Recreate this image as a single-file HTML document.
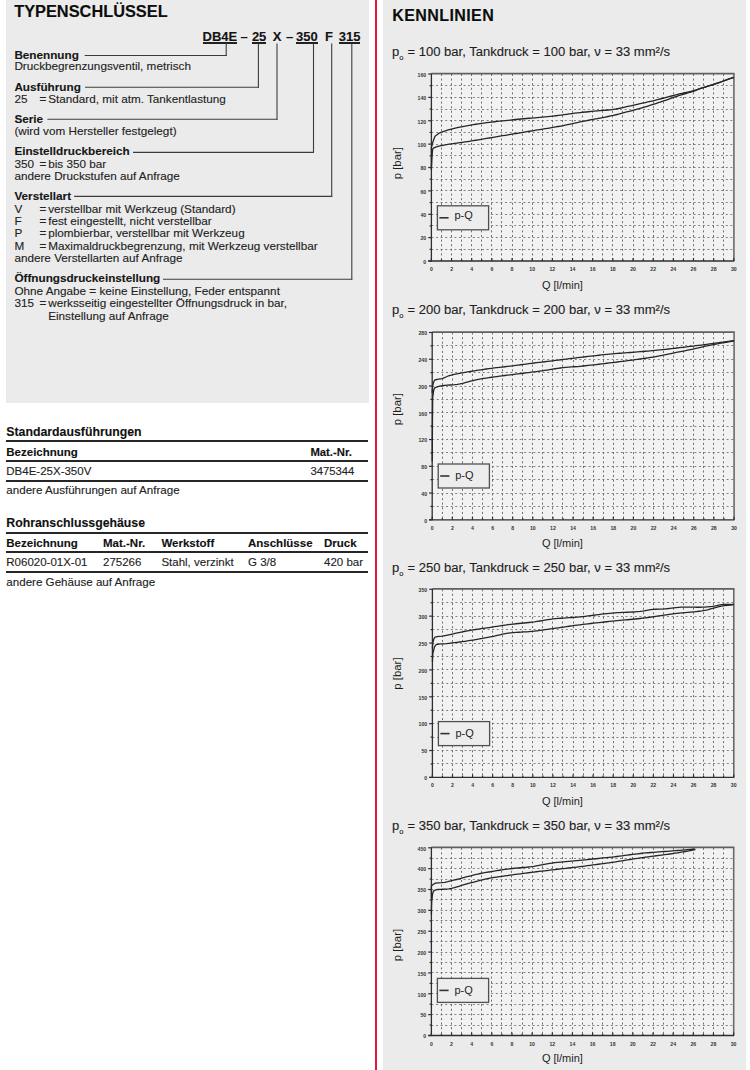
<!DOCTYPE html>
<html><head><meta charset="utf-8"><title>Typenschlüssel / Kennlinien</title>
<style>
html,body{margin:0;padding:0;background:#fff;}
body{width:750px;height:1070px;position:relative;overflow:hidden;font-family:"Liberation Sans", sans-serif;}
.t{position:absolute;white-space:nowrap;}
.r{position:absolute;}
svg{position:absolute;left:0;top:0;}
svg text{font-family:"Liberation Sans", sans-serif;}
</style></head><body>
<div class="r" style="left:6.00px;top:0.00px;width:363.00px;height:403.00px;background:#ebebeb;"></div>
<div class="r" style="left:383.00px;top:0.00px;width:363.00px;height:1070.00px;background:#ebebeb;"></div>
<div class="r" style="left:375.00px;top:0.00px;width:2.00px;height:1070.00px;background:#e1173c;"></div>
<div class="r" style="left:202.50px;top:42.20px;width:34.70px;height:1.50px;background:#222;"></div>
<div class="r" style="left:251.90px;top:42.20px;width:14.50px;height:1.50px;background:#222;"></div>
<div class="r" style="left:296.00px;top:42.20px;width:21.70px;height:1.50px;background:#222;"></div>
<div class="r" style="left:338.80px;top:42.20px;width:21.70px;height:1.50px;background:#222;"></div>
<div class="r" style="left:5.60px;top:440.00px;width:362.80px;height:1.60px;background:#262626;"></div>
<div class="r" style="left:5.60px;top:460.00px;width:362.80px;height:1.60px;background:#262626;"></div>
<div class="r" style="left:5.60px;top:480.00px;width:362.80px;height:1.60px;background:#262626;"></div>
<div class="r" style="left:5.60px;top:532.00px;width:362.80px;height:1.60px;background:#262626;"></div>
<div class="r" style="left:5.60px;top:551.00px;width:362.80px;height:1.60px;background:#262626;"></div>
<div class="r" style="left:5.60px;top:571.20px;width:362.80px;height:1.60px;background:#262626;"></div>
<svg width="750" height="1070" viewBox="0 0 750 1070">
<line x1="226.20" y1="43.50" x2="226.20" y2="56.00" stroke="#3c3c3c" stroke-width="1.1" />
<line x1="84.70" y1="55.50" x2="226.70" y2="55.50" stroke="#3c3c3c" stroke-width="1.1" />
<line x1="258.40" y1="43.50" x2="258.40" y2="87.70" stroke="#3c3c3c" stroke-width="1.1" />
<line x1="85.10" y1="87.20" x2="258.90" y2="87.20" stroke="#3c3c3c" stroke-width="1.1" />
<line x1="277.00" y1="43.50" x2="277.00" y2="119.80" stroke="#3c3c3c" stroke-width="1.1" />
<line x1="47.40" y1="119.30" x2="277.50" y2="119.30" stroke="#3c3c3c" stroke-width="1.1" />
<line x1="313.50" y1="43.50" x2="313.50" y2="152.90" stroke="#3c3c3c" stroke-width="1.1" />
<line x1="133.00" y1="152.40" x2="314.00" y2="152.40" stroke="#3c3c3c" stroke-width="1.1" />
<line x1="331.70" y1="43.50" x2="331.70" y2="196.90" stroke="#3c3c3c" stroke-width="1.1" />
<line x1="74.10" y1="196.40" x2="332.20" y2="196.40" stroke="#3c3c3c" stroke-width="1.1" />
<line x1="351.80" y1="43.50" x2="351.80" y2="279.80" stroke="#3c3c3c" stroke-width="1.1" />
<line x1="163.00" y1="279.30" x2="352.30" y2="279.30" stroke="#3c3c3c" stroke-width="1.1" />
<rect x="431.40" y="74.00" width="302.40" height="187.00" fill="#f2f2f2"/>
<line x1="431.40" y1="249.50" x2="733.80" y2="249.50" stroke="#838383" stroke-width="1" stroke-dasharray="2 2.6"/>
<line x1="431.40" y1="237.50" x2="733.80" y2="237.50" stroke="#838383" stroke-width="1" stroke-dasharray="2 2.6"/>
<line x1="431.40" y1="225.50" x2="733.80" y2="225.50" stroke="#838383" stroke-width="1" stroke-dasharray="2 2.6"/>
<line x1="431.40" y1="214.50" x2="733.80" y2="214.50" stroke="#838383" stroke-width="1" stroke-dasharray="2 2.6"/>
<line x1="431.40" y1="202.50" x2="733.80" y2="202.50" stroke="#838383" stroke-width="1" stroke-dasharray="2 2.6"/>
<line x1="431.40" y1="190.50" x2="733.80" y2="190.50" stroke="#838383" stroke-width="1" stroke-dasharray="2 2.6"/>
<line x1="431.40" y1="179.50" x2="733.80" y2="179.50" stroke="#838383" stroke-width="1" stroke-dasharray="2 2.6"/>
<line x1="431.40" y1="167.50" x2="733.80" y2="167.50" stroke="#838383" stroke-width="1" stroke-dasharray="2 2.6"/>
<line x1="431.40" y1="155.50" x2="733.80" y2="155.50" stroke="#838383" stroke-width="1" stroke-dasharray="2 2.6"/>
<line x1="431.40" y1="144.50" x2="733.80" y2="144.50" stroke="#838383" stroke-width="1" stroke-dasharray="2 2.6"/>
<line x1="431.40" y1="132.50" x2="733.80" y2="132.50" stroke="#838383" stroke-width="1" stroke-dasharray="2 2.6"/>
<line x1="431.40" y1="120.50" x2="733.80" y2="120.50" stroke="#838383" stroke-width="1" stroke-dasharray="2 2.6"/>
<line x1="431.40" y1="109.50" x2="733.80" y2="109.50" stroke="#838383" stroke-width="1" stroke-dasharray="2 2.6"/>
<line x1="431.40" y1="97.50" x2="733.80" y2="97.50" stroke="#838383" stroke-width="1" stroke-dasharray="2 2.6"/>
<line x1="431.40" y1="85.50" x2="733.80" y2="85.50" stroke="#838383" stroke-width="1" stroke-dasharray="2 2.6"/>
<line x1="441.50" y1="74.00" x2="441.50" y2="261.00" stroke="#6e6e6e" stroke-width="1" stroke-dasharray="2 2.6"/>
<line x1="451.50" y1="74.00" x2="451.50" y2="261.00" stroke="#6e6e6e" stroke-width="1" stroke-dasharray="2 2.6"/>
<line x1="461.50" y1="74.00" x2="461.50" y2="261.00" stroke="#6e6e6e" stroke-width="1" stroke-dasharray="2 2.6"/>
<line x1="471.50" y1="74.00" x2="471.50" y2="261.00" stroke="#6e6e6e" stroke-width="1" stroke-dasharray="2 2.6"/>
<line x1="481.50" y1="74.00" x2="481.50" y2="261.00" stroke="#6e6e6e" stroke-width="1" stroke-dasharray="2 2.6"/>
<line x1="491.50" y1="74.00" x2="491.50" y2="261.00" stroke="#6e6e6e" stroke-width="1" stroke-dasharray="2 2.6"/>
<line x1="501.50" y1="74.00" x2="501.50" y2="261.00" stroke="#6e6e6e" stroke-width="1" stroke-dasharray="2 2.6"/>
<line x1="512.50" y1="74.00" x2="512.50" y2="261.00" stroke="#6e6e6e" stroke-width="1" stroke-dasharray="2 2.6"/>
<line x1="522.50" y1="74.00" x2="522.50" y2="261.00" stroke="#6e6e6e" stroke-width="1" stroke-dasharray="2 2.6"/>
<line x1="532.50" y1="74.00" x2="532.50" y2="261.00" stroke="#6e6e6e" stroke-width="1" stroke-dasharray="2 2.6"/>
<line x1="542.50" y1="74.00" x2="542.50" y2="261.00" stroke="#6e6e6e" stroke-width="1" stroke-dasharray="2 2.6"/>
<line x1="552.50" y1="74.00" x2="552.50" y2="261.00" stroke="#6e6e6e" stroke-width="1" stroke-dasharray="2 2.6"/>
<line x1="562.50" y1="74.00" x2="562.50" y2="261.00" stroke="#6e6e6e" stroke-width="1" stroke-dasharray="2 2.6"/>
<line x1="572.50" y1="74.00" x2="572.50" y2="261.00" stroke="#6e6e6e" stroke-width="1" stroke-dasharray="2 2.6"/>
<line x1="582.50" y1="74.00" x2="582.50" y2="261.00" stroke="#6e6e6e" stroke-width="1" stroke-dasharray="2 2.6"/>
<line x1="592.50" y1="74.00" x2="592.50" y2="261.00" stroke="#6e6e6e" stroke-width="1" stroke-dasharray="2 2.6"/>
<line x1="602.50" y1="74.00" x2="602.50" y2="261.00" stroke="#6e6e6e" stroke-width="1" stroke-dasharray="2 2.6"/>
<line x1="612.50" y1="74.00" x2="612.50" y2="261.00" stroke="#6e6e6e" stroke-width="1" stroke-dasharray="2 2.6"/>
<line x1="622.50" y1="74.00" x2="622.50" y2="261.00" stroke="#6e6e6e" stroke-width="1" stroke-dasharray="2 2.6"/>
<line x1="633.50" y1="74.00" x2="633.50" y2="261.00" stroke="#6e6e6e" stroke-width="1" stroke-dasharray="2 2.6"/>
<line x1="643.50" y1="74.00" x2="643.50" y2="261.00" stroke="#6e6e6e" stroke-width="1" stroke-dasharray="2 2.6"/>
<line x1="653.50" y1="74.00" x2="653.50" y2="261.00" stroke="#6e6e6e" stroke-width="1" stroke-dasharray="2 2.6"/>
<line x1="663.50" y1="74.00" x2="663.50" y2="261.00" stroke="#6e6e6e" stroke-width="1" stroke-dasharray="2 2.6"/>
<line x1="673.50" y1="74.00" x2="673.50" y2="261.00" stroke="#6e6e6e" stroke-width="1" stroke-dasharray="2 2.6"/>
<line x1="683.50" y1="74.00" x2="683.50" y2="261.00" stroke="#6e6e6e" stroke-width="1" stroke-dasharray="2 2.6"/>
<line x1="693.50" y1="74.00" x2="693.50" y2="261.00" stroke="#6e6e6e" stroke-width="1" stroke-dasharray="2 2.6"/>
<line x1="703.50" y1="74.00" x2="703.50" y2="261.00" stroke="#6e6e6e" stroke-width="1" stroke-dasharray="2 2.6"/>
<line x1="713.50" y1="74.00" x2="713.50" y2="261.00" stroke="#6e6e6e" stroke-width="1" stroke-dasharray="2 2.6"/>
<line x1="723.50" y1="74.00" x2="723.50" y2="261.00" stroke="#6e6e6e" stroke-width="1" stroke-dasharray="2 2.6"/>
<line x1="431.40" y1="73.60" x2="734.60" y2="73.60" stroke="#606060" stroke-width="1.8" />
<line x1="733.90" y1="73.60" x2="733.90" y2="261.00" stroke="#6a6a6a" stroke-width="1.6" />
<line x1="431.40" y1="73.50" x2="431.40" y2="261.50" stroke="#2e2e2e" stroke-width="1.3" />
<line x1="428.20" y1="261.00" x2="734.30" y2="261.00" stroke="#2e2e2e" stroke-width="1.3" />
<line x1="428.20" y1="261.00" x2="431.40" y2="261.00" stroke="#2e2e2e" stroke-width="1.2" />
<text font-size="6" font-weight="bold" text-anchor="end" fill="#333" transform="matrix(0.86 0 0 1 426.20 263.80)">0</text>
<line x1="429.60" y1="249.31" x2="431.40" y2="249.31" stroke="#2e2e2e" stroke-width="1.2" />
<line x1="428.20" y1="237.62" x2="431.40" y2="237.62" stroke="#2e2e2e" stroke-width="1.2" />
<text font-size="6" font-weight="bold" text-anchor="end" fill="#333" transform="matrix(0.86 0 0 1 426.20 240.43)">20</text>
<line x1="429.60" y1="225.94" x2="431.40" y2="225.94" stroke="#2e2e2e" stroke-width="1.2" />
<line x1="428.20" y1="214.25" x2="431.40" y2="214.25" stroke="#2e2e2e" stroke-width="1.2" />
<text font-size="6" font-weight="bold" text-anchor="end" fill="#333" transform="matrix(0.86 0 0 1 426.20 217.05)">40</text>
<line x1="429.60" y1="202.56" x2="431.40" y2="202.56" stroke="#2e2e2e" stroke-width="1.2" />
<line x1="428.20" y1="190.88" x2="431.40" y2="190.88" stroke="#2e2e2e" stroke-width="1.2" />
<text font-size="6" font-weight="bold" text-anchor="end" fill="#333" transform="matrix(0.86 0 0 1 426.20 193.68)">60</text>
<line x1="429.60" y1="179.19" x2="431.40" y2="179.19" stroke="#2e2e2e" stroke-width="1.2" />
<line x1="428.20" y1="167.50" x2="431.40" y2="167.50" stroke="#2e2e2e" stroke-width="1.2" />
<text font-size="6" font-weight="bold" text-anchor="end" fill="#333" transform="matrix(0.86 0 0 1 426.20 170.30)">80</text>
<line x1="429.60" y1="155.81" x2="431.40" y2="155.81" stroke="#2e2e2e" stroke-width="1.2" />
<line x1="428.20" y1="144.12" x2="431.40" y2="144.12" stroke="#2e2e2e" stroke-width="1.2" />
<text font-size="6" font-weight="bold" text-anchor="end" fill="#333" transform="matrix(0.86 0 0 1 426.20 146.93)">100</text>
<line x1="429.60" y1="132.44" x2="431.40" y2="132.44" stroke="#2e2e2e" stroke-width="1.2" />
<line x1="428.20" y1="120.75" x2="431.40" y2="120.75" stroke="#2e2e2e" stroke-width="1.2" />
<text font-size="6" font-weight="bold" text-anchor="end" fill="#333" transform="matrix(0.86 0 0 1 426.20 123.55)">120</text>
<line x1="429.60" y1="109.06" x2="431.40" y2="109.06" stroke="#2e2e2e" stroke-width="1.2" />
<line x1="428.20" y1="97.38" x2="431.40" y2="97.38" stroke="#2e2e2e" stroke-width="1.2" />
<text font-size="6" font-weight="bold" text-anchor="end" fill="#333" transform="matrix(0.86 0 0 1 426.20 100.17)">140</text>
<line x1="429.60" y1="85.69" x2="431.40" y2="85.69" stroke="#2e2e2e" stroke-width="1.2" />
<line x1="428.20" y1="74.00" x2="431.40" y2="74.00" stroke="#2e2e2e" stroke-width="1.2" />
<text font-size="6" font-weight="bold" text-anchor="end" fill="#333" transform="matrix(0.86 0 0 1 426.20 76.80)">160</text>
<line x1="431.40" y1="258.00" x2="431.40" y2="261.00" stroke="#2e2e2e" stroke-width="1.2" />
<text font-size="6" font-weight="bold" text-anchor="middle" fill="#333" transform="matrix(0.86 0 0 1 431.40 271.00)">0</text>
<line x1="441.48" y1="259.20" x2="441.48" y2="261.00" stroke="#2e2e2e" stroke-width="1.2" />
<line x1="451.56" y1="258.00" x2="451.56" y2="261.00" stroke="#2e2e2e" stroke-width="1.2" />
<text font-size="6" font-weight="bold" text-anchor="middle" fill="#333" transform="matrix(0.86 0 0 1 451.56 271.00)">2</text>
<line x1="461.64" y1="259.20" x2="461.64" y2="261.00" stroke="#2e2e2e" stroke-width="1.2" />
<line x1="471.72" y1="258.00" x2="471.72" y2="261.00" stroke="#2e2e2e" stroke-width="1.2" />
<text font-size="6" font-weight="bold" text-anchor="middle" fill="#333" transform="matrix(0.86 0 0 1 471.72 271.00)">4</text>
<line x1="481.80" y1="259.20" x2="481.80" y2="261.00" stroke="#2e2e2e" stroke-width="1.2" />
<line x1="491.88" y1="258.00" x2="491.88" y2="261.00" stroke="#2e2e2e" stroke-width="1.2" />
<text font-size="6" font-weight="bold" text-anchor="middle" fill="#333" transform="matrix(0.86 0 0 1 491.88 271.00)">6</text>
<line x1="501.96" y1="259.20" x2="501.96" y2="261.00" stroke="#2e2e2e" stroke-width="1.2" />
<line x1="512.04" y1="258.00" x2="512.04" y2="261.00" stroke="#2e2e2e" stroke-width="1.2" />
<text font-size="6" font-weight="bold" text-anchor="middle" fill="#333" transform="matrix(0.86 0 0 1 512.04 271.00)">8</text>
<line x1="522.12" y1="259.20" x2="522.12" y2="261.00" stroke="#2e2e2e" stroke-width="1.2" />
<line x1="532.20" y1="258.00" x2="532.20" y2="261.00" stroke="#2e2e2e" stroke-width="1.2" />
<text font-size="6" font-weight="bold" text-anchor="middle" fill="#333" transform="matrix(0.86 0 0 1 532.20 271.00)">10</text>
<line x1="542.28" y1="259.20" x2="542.28" y2="261.00" stroke="#2e2e2e" stroke-width="1.2" />
<line x1="552.36" y1="258.00" x2="552.36" y2="261.00" stroke="#2e2e2e" stroke-width="1.2" />
<text font-size="6" font-weight="bold" text-anchor="middle" fill="#333" transform="matrix(0.86 0 0 1 552.36 271.00)">12</text>
<line x1="562.44" y1="259.20" x2="562.44" y2="261.00" stroke="#2e2e2e" stroke-width="1.2" />
<line x1="572.52" y1="258.00" x2="572.52" y2="261.00" stroke="#2e2e2e" stroke-width="1.2" />
<text font-size="6" font-weight="bold" text-anchor="middle" fill="#333" transform="matrix(0.86 0 0 1 572.52 271.00)">14</text>
<line x1="582.60" y1="259.20" x2="582.60" y2="261.00" stroke="#2e2e2e" stroke-width="1.2" />
<line x1="592.68" y1="258.00" x2="592.68" y2="261.00" stroke="#2e2e2e" stroke-width="1.2" />
<text font-size="6" font-weight="bold" text-anchor="middle" fill="#333" transform="matrix(0.86 0 0 1 592.68 271.00)">16</text>
<line x1="602.76" y1="259.20" x2="602.76" y2="261.00" stroke="#2e2e2e" stroke-width="1.2" />
<line x1="612.84" y1="258.00" x2="612.84" y2="261.00" stroke="#2e2e2e" stroke-width="1.2" />
<text font-size="6" font-weight="bold" text-anchor="middle" fill="#333" transform="matrix(0.86 0 0 1 612.84 271.00)">18</text>
<line x1="622.92" y1="259.20" x2="622.92" y2="261.00" stroke="#2e2e2e" stroke-width="1.2" />
<line x1="633.00" y1="258.00" x2="633.00" y2="261.00" stroke="#2e2e2e" stroke-width="1.2" />
<text font-size="6" font-weight="bold" text-anchor="middle" fill="#333" transform="matrix(0.86 0 0 1 633.00 271.00)">20</text>
<line x1="643.08" y1="259.20" x2="643.08" y2="261.00" stroke="#2e2e2e" stroke-width="1.2" />
<line x1="653.16" y1="258.00" x2="653.16" y2="261.00" stroke="#2e2e2e" stroke-width="1.2" />
<text font-size="6" font-weight="bold" text-anchor="middle" fill="#333" transform="matrix(0.86 0 0 1 653.16 271.00)">22</text>
<line x1="663.24" y1="259.20" x2="663.24" y2="261.00" stroke="#2e2e2e" stroke-width="1.2" />
<line x1="673.32" y1="258.00" x2="673.32" y2="261.00" stroke="#2e2e2e" stroke-width="1.2" />
<text font-size="6" font-weight="bold" text-anchor="middle" fill="#333" transform="matrix(0.86 0 0 1 673.32 271.00)">24</text>
<line x1="683.40" y1="259.20" x2="683.40" y2="261.00" stroke="#2e2e2e" stroke-width="1.2" />
<line x1="693.48" y1="258.00" x2="693.48" y2="261.00" stroke="#2e2e2e" stroke-width="1.2" />
<text font-size="6" font-weight="bold" text-anchor="middle" fill="#333" transform="matrix(0.86 0 0 1 693.48 271.00)">26</text>
<line x1="703.56" y1="259.20" x2="703.56" y2="261.00" stroke="#2e2e2e" stroke-width="1.2" />
<line x1="713.64" y1="258.00" x2="713.64" y2="261.00" stroke="#2e2e2e" stroke-width="1.2" />
<text font-size="6" font-weight="bold" text-anchor="middle" fill="#333" transform="matrix(0.86 0 0 1 713.64 271.00)">28</text>
<line x1="723.72" y1="259.20" x2="723.72" y2="261.00" stroke="#2e2e2e" stroke-width="1.2" />
<line x1="733.80" y1="258.00" x2="733.80" y2="261.00" stroke="#2e2e2e" stroke-width="1.2" />
<text font-size="6" font-weight="bold" text-anchor="middle" fill="#333" transform="matrix(0.86 0 0 1 733.80 271.00)">30</text>
<rect x="437.40" y="205.80" width="51.2" height="24" fill="#ededed" stroke="#505050" stroke-width="1.3"/>
<line x1="439.40" y1="217.80" x2="448.60" y2="217.80" stroke="#333" stroke-width="1.6" />
<text x="454.40" y="218.80" font-size="11" text-anchor="start" fill="#1e1e1e" font-weight="normal" >p-Q</text>
<text x="562.40" y="288.80" font-size="11" text-anchor="middle" fill="#1e1e1e" font-weight="normal" >Q [l/min]</text>
<text x="0" y="0" font-size="11.4" text-anchor="middle" fill="#1e1e1e" transform="translate(400.6 163.20) rotate(-90)">p [bar]</text>
<path d="M431.40 169.84 L431.40 147.63 L433.21 140.95 L435.03 136.18 L438.71 133.47 L442.39 131.97 L445.37 130.86 L448.35 129.90 L451.34 129.06 L454.32 128.32 L457.31 127.65 L459.97 127.08 L462.63 126.55 L465.29 126.04 L467.96 125.56 L470.62 125.10 L473.28 124.66 L475.95 124.25 L478.61 123.85 L481.27 123.46 L483.93 123.09 L486.60 122.73 L489.26 122.39 L491.91 122.05 L494.57 121.73 L497.22 121.42 L499.88 121.13 L502.53 120.84 L505.19 120.57 L507.84 120.30 L510.49 120.03 L513.15 119.77 L515.80 119.51 L518.46 119.26 L521.11 119.00 L523.78 118.74 L526.45 118.50 L529.13 118.26 L531.80 118.03 L534.47 117.80 L537.14 117.57 L539.81 117.35 L542.48 117.11 L545.15 116.87 L547.82 116.62 L550.50 116.35 L553.17 116.08 L555.86 115.77 L558.55 115.43 L561.24 115.07 L563.93 114.70 L566.62 114.32 L569.31 113.94 L572.01 113.57 L574.70 113.21 L577.39 112.88 L580.08 112.57 L582.93 112.27 L585.78 111.99 L588.63 111.73 L591.48 111.47 L594.34 111.22 L597.19 110.96 L600.04 110.70 L602.70 110.46 L605.36 110.23 L608.02 109.99 L610.68 109.73 L613.34 109.41 L616.01 109.00 L618.67 108.49 L621.33 107.91 L623.99 107.31 L626.65 106.72 L629.33 106.14 L632.01 105.53 L634.69 104.91 L637.37 104.30 L640.06 103.69 L642.68 103.11 L645.30 102.53 L647.92 101.96 L650.54 101.38 L653.16 100.76 L655.78 100.12 L658.40 99.44 L661.02 98.75 L663.64 98.06 L666.26 97.38 L668.88 96.69 L671.51 96.00 L674.13 95.32 L676.75 94.64 L679.37 93.99 L682.19 93.33 L685.01 92.71 L687.84 92.10 L690.66 91.45 L693.48 90.71 L696.50 89.75 L699.53 88.73 L702.35 87.87 L705.17 87.05 L708.00 86.24 L710.82 85.41 L713.64 84.52 L716.16 83.67 L718.68 82.77 L721.20 81.84 L723.72 80.89 L726.24 79.92 L728.76 78.95 L731.28 77.99 L733.80 77.04" fill="none" stroke="#262626" stroke-width="1.3" stroke-linejoin="round"/>
<path d="M431.40 168.67 L432.00 156.95 L432.61 149.38 L433.26 148.35 L433.92 147.87 L436.44 146.81 L438.96 146.08 L441.48 145.56 L444.00 145.14 L446.52 144.71 L449.17 144.23 L451.81 143.80 L454.46 143.41 L457.10 143.04 L459.75 142.68 L462.40 142.32 L465.04 141.95 L467.69 141.55 L470.38 141.13 L473.06 140.69 L475.75 140.25 L478.44 139.81 L481.13 139.36 L483.82 138.91 L486.50 138.45 L489.19 137.99 L491.88 137.54 L494.57 137.08 L497.26 136.63 L499.94 136.18 L502.63 135.73 L505.32 135.28 L508.01 134.83 L510.70 134.39 L513.38 133.94 L516.07 133.49 L518.76 133.05 L521.45 132.60 L524.14 132.15 L526.82 131.70 L529.51 131.25 L532.20 130.80 L534.80 130.37 L537.41 129.95 L540.01 129.53 L542.62 129.11 L545.22 128.69 L547.82 128.27 L550.43 127.84 L553.03 127.41 L555.64 126.96 L558.24 126.51 L560.84 126.03 L563.45 125.54 L566.22 124.98 L568.99 124.38 L571.76 123.76 L574.54 123.13 L577.31 122.51 L580.08 121.92 L582.93 121.34 L585.78 120.79 L588.63 120.24 L591.48 119.70 L594.34 119.16 L597.19 118.62 L600.04 118.06 L602.70 117.54 L605.36 117.02 L608.02 116.50 L610.68 115.95 L613.34 115.37 L616.01 114.75 L618.67 114.08 L621.33 113.38 L623.99 112.68 L626.65 111.98 L629.33 111.30 L632.01 110.62 L634.69 109.93 L637.37 109.22 L640.06 108.48 L642.68 107.71 L645.30 106.90 L647.92 106.07 L650.54 105.23 L653.16 104.39 L655.78 103.54 L658.40 102.69 L661.02 101.83 L663.64 100.95 L666.26 100.06 L668.88 99.14 L671.51 98.17 L674.13 97.21 L676.75 96.27 L679.37 95.39 L682.19 94.54 L685.01 93.75 L687.84 92.99 L690.66 92.19 L693.48 91.30 L696.50 90.15 L699.53 88.96 L702.35 87.97 L705.17 87.03 L708.00 86.12 L710.82 85.21 L713.64 84.29 L716.16 83.44 L718.68 82.60 L721.20 81.75 L723.72 80.90 L726.24 80.05 L728.76 79.20 L731.28 78.35 L733.80 77.51" fill="none" stroke="#262626" stroke-width="1.3" stroke-linejoin="round"/>
<rect x="432.20" y="332.50" width="301.80" height="187.30" fill="#f2f2f2"/>
<line x1="432.20" y1="506.50" x2="734.00" y2="506.50" stroke="#838383" stroke-width="1" stroke-dasharray="2 2.6"/>
<line x1="432.20" y1="493.50" x2="734.00" y2="493.50" stroke="#838383" stroke-width="1" stroke-dasharray="2 2.6"/>
<line x1="432.20" y1="479.50" x2="734.00" y2="479.50" stroke="#838383" stroke-width="1" stroke-dasharray="2 2.6"/>
<line x1="432.20" y1="466.50" x2="734.00" y2="466.50" stroke="#838383" stroke-width="1" stroke-dasharray="2 2.6"/>
<line x1="432.20" y1="452.50" x2="734.00" y2="452.50" stroke="#838383" stroke-width="1" stroke-dasharray="2 2.6"/>
<line x1="432.20" y1="439.50" x2="734.00" y2="439.50" stroke="#838383" stroke-width="1" stroke-dasharray="2 2.6"/>
<line x1="432.20" y1="426.50" x2="734.00" y2="426.50" stroke="#838383" stroke-width="1" stroke-dasharray="2 2.6"/>
<line x1="432.20" y1="412.50" x2="734.00" y2="412.50" stroke="#838383" stroke-width="1" stroke-dasharray="2 2.6"/>
<line x1="432.20" y1="399.50" x2="734.00" y2="399.50" stroke="#838383" stroke-width="1" stroke-dasharray="2 2.6"/>
<line x1="432.20" y1="386.50" x2="734.00" y2="386.50" stroke="#838383" stroke-width="1" stroke-dasharray="2 2.6"/>
<line x1="432.20" y1="372.50" x2="734.00" y2="372.50" stroke="#838383" stroke-width="1" stroke-dasharray="2 2.6"/>
<line x1="432.20" y1="359.50" x2="734.00" y2="359.50" stroke="#838383" stroke-width="1" stroke-dasharray="2 2.6"/>
<line x1="432.20" y1="345.50" x2="734.00" y2="345.50" stroke="#838383" stroke-width="1" stroke-dasharray="2 2.6"/>
<line x1="442.50" y1="332.50" x2="442.50" y2="519.80" stroke="#6e6e6e" stroke-width="1" stroke-dasharray="2 2.6"/>
<line x1="452.50" y1="332.50" x2="452.50" y2="519.80" stroke="#6e6e6e" stroke-width="1" stroke-dasharray="2 2.6"/>
<line x1="462.50" y1="332.50" x2="462.50" y2="519.80" stroke="#6e6e6e" stroke-width="1" stroke-dasharray="2 2.6"/>
<line x1="472.50" y1="332.50" x2="472.50" y2="519.80" stroke="#6e6e6e" stroke-width="1" stroke-dasharray="2 2.6"/>
<line x1="482.50" y1="332.50" x2="482.50" y2="519.80" stroke="#6e6e6e" stroke-width="1" stroke-dasharray="2 2.6"/>
<line x1="492.50" y1="332.50" x2="492.50" y2="519.80" stroke="#6e6e6e" stroke-width="1" stroke-dasharray="2 2.6"/>
<line x1="502.50" y1="332.50" x2="502.50" y2="519.80" stroke="#6e6e6e" stroke-width="1" stroke-dasharray="2 2.6"/>
<line x1="512.50" y1="332.50" x2="512.50" y2="519.80" stroke="#6e6e6e" stroke-width="1" stroke-dasharray="2 2.6"/>
<line x1="522.50" y1="332.50" x2="522.50" y2="519.80" stroke="#6e6e6e" stroke-width="1" stroke-dasharray="2 2.6"/>
<line x1="532.50" y1="332.50" x2="532.50" y2="519.80" stroke="#6e6e6e" stroke-width="1" stroke-dasharray="2 2.6"/>
<line x1="542.50" y1="332.50" x2="542.50" y2="519.80" stroke="#6e6e6e" stroke-width="1" stroke-dasharray="2 2.6"/>
<line x1="552.50" y1="332.50" x2="552.50" y2="519.80" stroke="#6e6e6e" stroke-width="1" stroke-dasharray="2 2.6"/>
<line x1="562.50" y1="332.50" x2="562.50" y2="519.80" stroke="#6e6e6e" stroke-width="1" stroke-dasharray="2 2.6"/>
<line x1="573.50" y1="332.50" x2="573.50" y2="519.80" stroke="#6e6e6e" stroke-width="1" stroke-dasharray="2 2.6"/>
<line x1="583.50" y1="332.50" x2="583.50" y2="519.80" stroke="#6e6e6e" stroke-width="1" stroke-dasharray="2 2.6"/>
<line x1="593.50" y1="332.50" x2="593.50" y2="519.80" stroke="#6e6e6e" stroke-width="1" stroke-dasharray="2 2.6"/>
<line x1="603.50" y1="332.50" x2="603.50" y2="519.80" stroke="#6e6e6e" stroke-width="1" stroke-dasharray="2 2.6"/>
<line x1="613.50" y1="332.50" x2="613.50" y2="519.80" stroke="#6e6e6e" stroke-width="1" stroke-dasharray="2 2.6"/>
<line x1="623.50" y1="332.50" x2="623.50" y2="519.80" stroke="#6e6e6e" stroke-width="1" stroke-dasharray="2 2.6"/>
<line x1="633.50" y1="332.50" x2="633.50" y2="519.80" stroke="#6e6e6e" stroke-width="1" stroke-dasharray="2 2.6"/>
<line x1="643.50" y1="332.50" x2="643.50" y2="519.80" stroke="#6e6e6e" stroke-width="1" stroke-dasharray="2 2.6"/>
<line x1="653.50" y1="332.50" x2="653.50" y2="519.80" stroke="#6e6e6e" stroke-width="1" stroke-dasharray="2 2.6"/>
<line x1="663.50" y1="332.50" x2="663.50" y2="519.80" stroke="#6e6e6e" stroke-width="1" stroke-dasharray="2 2.6"/>
<line x1="673.50" y1="332.50" x2="673.50" y2="519.80" stroke="#6e6e6e" stroke-width="1" stroke-dasharray="2 2.6"/>
<line x1="683.50" y1="332.50" x2="683.50" y2="519.80" stroke="#6e6e6e" stroke-width="1" stroke-dasharray="2 2.6"/>
<line x1="693.50" y1="332.50" x2="693.50" y2="519.80" stroke="#6e6e6e" stroke-width="1" stroke-dasharray="2 2.6"/>
<line x1="703.50" y1="332.50" x2="703.50" y2="519.80" stroke="#6e6e6e" stroke-width="1" stroke-dasharray="2 2.6"/>
<line x1="713.50" y1="332.50" x2="713.50" y2="519.80" stroke="#6e6e6e" stroke-width="1" stroke-dasharray="2 2.6"/>
<line x1="723.50" y1="332.50" x2="723.50" y2="519.80" stroke="#6e6e6e" stroke-width="1" stroke-dasharray="2 2.6"/>
<line x1="432.20" y1="332.10" x2="734.80" y2="332.10" stroke="#606060" stroke-width="1.8" />
<line x1="734.10" y1="332.10" x2="734.10" y2="519.80" stroke="#6a6a6a" stroke-width="1.6" />
<line x1="432.20" y1="332.00" x2="432.20" y2="520.30" stroke="#2e2e2e" stroke-width="1.3" />
<line x1="429.00" y1="519.80" x2="734.50" y2="519.80" stroke="#2e2e2e" stroke-width="1.3" />
<line x1="429.00" y1="519.80" x2="432.20" y2="519.80" stroke="#2e2e2e" stroke-width="1.2" />
<text font-size="6" font-weight="bold" text-anchor="end" fill="#333" transform="matrix(0.86 0 0 1 427.00 522.60)">0</text>
<line x1="430.40" y1="506.42" x2="432.20" y2="506.42" stroke="#2e2e2e" stroke-width="1.2" />
<line x1="429.00" y1="493.04" x2="432.20" y2="493.04" stroke="#2e2e2e" stroke-width="1.2" />
<text font-size="6" font-weight="bold" text-anchor="end" fill="#333" transform="matrix(0.86 0 0 1 427.00 495.84)">40</text>
<line x1="430.40" y1="479.66" x2="432.20" y2="479.66" stroke="#2e2e2e" stroke-width="1.2" />
<line x1="429.00" y1="466.29" x2="432.20" y2="466.29" stroke="#2e2e2e" stroke-width="1.2" />
<text font-size="6" font-weight="bold" text-anchor="end" fill="#333" transform="matrix(0.86 0 0 1 427.00 469.09)">80</text>
<line x1="430.40" y1="452.91" x2="432.20" y2="452.91" stroke="#2e2e2e" stroke-width="1.2" />
<line x1="429.00" y1="439.53" x2="432.20" y2="439.53" stroke="#2e2e2e" stroke-width="1.2" />
<text font-size="6" font-weight="bold" text-anchor="end" fill="#333" transform="matrix(0.86 0 0 1 427.00 442.33)">120</text>
<line x1="430.40" y1="426.15" x2="432.20" y2="426.15" stroke="#2e2e2e" stroke-width="1.2" />
<line x1="429.00" y1="412.77" x2="432.20" y2="412.77" stroke="#2e2e2e" stroke-width="1.2" />
<text font-size="6" font-weight="bold" text-anchor="end" fill="#333" transform="matrix(0.86 0 0 1 427.00 415.57)">160</text>
<line x1="430.40" y1="399.39" x2="432.20" y2="399.39" stroke="#2e2e2e" stroke-width="1.2" />
<line x1="429.00" y1="386.01" x2="432.20" y2="386.01" stroke="#2e2e2e" stroke-width="1.2" />
<text font-size="6" font-weight="bold" text-anchor="end" fill="#333" transform="matrix(0.86 0 0 1 427.00 388.81)">200</text>
<line x1="430.40" y1="372.64" x2="432.20" y2="372.64" stroke="#2e2e2e" stroke-width="1.2" />
<line x1="429.00" y1="359.26" x2="432.20" y2="359.26" stroke="#2e2e2e" stroke-width="1.2" />
<text font-size="6" font-weight="bold" text-anchor="end" fill="#333" transform="matrix(0.86 0 0 1 427.00 362.06)">240</text>
<line x1="430.40" y1="345.88" x2="432.20" y2="345.88" stroke="#2e2e2e" stroke-width="1.2" />
<line x1="429.00" y1="332.50" x2="432.20" y2="332.50" stroke="#2e2e2e" stroke-width="1.2" />
<text font-size="6" font-weight="bold" text-anchor="end" fill="#333" transform="matrix(0.86 0 0 1 427.00 335.30)">280</text>
<line x1="432.20" y1="516.80" x2="432.20" y2="519.80" stroke="#2e2e2e" stroke-width="1.2" />
<text font-size="6" font-weight="bold" text-anchor="middle" fill="#333" transform="matrix(0.86 0 0 1 432.20 529.80)">0</text>
<line x1="442.26" y1="518.00" x2="442.26" y2="519.80" stroke="#2e2e2e" stroke-width="1.2" />
<line x1="452.32" y1="516.80" x2="452.32" y2="519.80" stroke="#2e2e2e" stroke-width="1.2" />
<text font-size="6" font-weight="bold" text-anchor="middle" fill="#333" transform="matrix(0.86 0 0 1 452.32 529.80)">2</text>
<line x1="462.38" y1="518.00" x2="462.38" y2="519.80" stroke="#2e2e2e" stroke-width="1.2" />
<line x1="472.44" y1="516.80" x2="472.44" y2="519.80" stroke="#2e2e2e" stroke-width="1.2" />
<text font-size="6" font-weight="bold" text-anchor="middle" fill="#333" transform="matrix(0.86 0 0 1 472.44 529.80)">4</text>
<line x1="482.50" y1="518.00" x2="482.50" y2="519.80" stroke="#2e2e2e" stroke-width="1.2" />
<line x1="492.56" y1="516.80" x2="492.56" y2="519.80" stroke="#2e2e2e" stroke-width="1.2" />
<text font-size="6" font-weight="bold" text-anchor="middle" fill="#333" transform="matrix(0.86 0 0 1 492.56 529.80)">6</text>
<line x1="502.62" y1="518.00" x2="502.62" y2="519.80" stroke="#2e2e2e" stroke-width="1.2" />
<line x1="512.68" y1="516.80" x2="512.68" y2="519.80" stroke="#2e2e2e" stroke-width="1.2" />
<text font-size="6" font-weight="bold" text-anchor="middle" fill="#333" transform="matrix(0.86 0 0 1 512.68 529.80)">8</text>
<line x1="522.74" y1="518.00" x2="522.74" y2="519.80" stroke="#2e2e2e" stroke-width="1.2" />
<line x1="532.80" y1="516.80" x2="532.80" y2="519.80" stroke="#2e2e2e" stroke-width="1.2" />
<text font-size="6" font-weight="bold" text-anchor="middle" fill="#333" transform="matrix(0.86 0 0 1 532.80 529.80)">10</text>
<line x1="542.86" y1="518.00" x2="542.86" y2="519.80" stroke="#2e2e2e" stroke-width="1.2" />
<line x1="552.92" y1="516.80" x2="552.92" y2="519.80" stroke="#2e2e2e" stroke-width="1.2" />
<text font-size="6" font-weight="bold" text-anchor="middle" fill="#333" transform="matrix(0.86 0 0 1 552.92 529.80)">12</text>
<line x1="562.98" y1="518.00" x2="562.98" y2="519.80" stroke="#2e2e2e" stroke-width="1.2" />
<line x1="573.04" y1="516.80" x2="573.04" y2="519.80" stroke="#2e2e2e" stroke-width="1.2" />
<text font-size="6" font-weight="bold" text-anchor="middle" fill="#333" transform="matrix(0.86 0 0 1 573.04 529.80)">14</text>
<line x1="583.10" y1="518.00" x2="583.10" y2="519.80" stroke="#2e2e2e" stroke-width="1.2" />
<line x1="593.16" y1="516.80" x2="593.16" y2="519.80" stroke="#2e2e2e" stroke-width="1.2" />
<text font-size="6" font-weight="bold" text-anchor="middle" fill="#333" transform="matrix(0.86 0 0 1 593.16 529.80)">16</text>
<line x1="603.22" y1="518.00" x2="603.22" y2="519.80" stroke="#2e2e2e" stroke-width="1.2" />
<line x1="613.28" y1="516.80" x2="613.28" y2="519.80" stroke="#2e2e2e" stroke-width="1.2" />
<text font-size="6" font-weight="bold" text-anchor="middle" fill="#333" transform="matrix(0.86 0 0 1 613.28 529.80)">18</text>
<line x1="623.34" y1="518.00" x2="623.34" y2="519.80" stroke="#2e2e2e" stroke-width="1.2" />
<line x1="633.40" y1="516.80" x2="633.40" y2="519.80" stroke="#2e2e2e" stroke-width="1.2" />
<text font-size="6" font-weight="bold" text-anchor="middle" fill="#333" transform="matrix(0.86 0 0 1 633.40 529.80)">20</text>
<line x1="643.46" y1="518.00" x2="643.46" y2="519.80" stroke="#2e2e2e" stroke-width="1.2" />
<line x1="653.52" y1="516.80" x2="653.52" y2="519.80" stroke="#2e2e2e" stroke-width="1.2" />
<text font-size="6" font-weight="bold" text-anchor="middle" fill="#333" transform="matrix(0.86 0 0 1 653.52 529.80)">22</text>
<line x1="663.58" y1="518.00" x2="663.58" y2="519.80" stroke="#2e2e2e" stroke-width="1.2" />
<line x1="673.64" y1="516.80" x2="673.64" y2="519.80" stroke="#2e2e2e" stroke-width="1.2" />
<text font-size="6" font-weight="bold" text-anchor="middle" fill="#333" transform="matrix(0.86 0 0 1 673.64 529.80)">24</text>
<line x1="683.70" y1="518.00" x2="683.70" y2="519.80" stroke="#2e2e2e" stroke-width="1.2" />
<line x1="693.76" y1="516.80" x2="693.76" y2="519.80" stroke="#2e2e2e" stroke-width="1.2" />
<text font-size="6" font-weight="bold" text-anchor="middle" fill="#333" transform="matrix(0.86 0 0 1 693.76 529.80)">26</text>
<line x1="703.82" y1="518.00" x2="703.82" y2="519.80" stroke="#2e2e2e" stroke-width="1.2" />
<line x1="713.88" y1="516.80" x2="713.88" y2="519.80" stroke="#2e2e2e" stroke-width="1.2" />
<text font-size="6" font-weight="bold" text-anchor="middle" fill="#333" transform="matrix(0.86 0 0 1 713.88 529.80)">28</text>
<line x1="723.94" y1="518.00" x2="723.94" y2="519.80" stroke="#2e2e2e" stroke-width="1.2" />
<line x1="734.00" y1="516.80" x2="734.00" y2="519.80" stroke="#2e2e2e" stroke-width="1.2" />
<text font-size="6" font-weight="bold" text-anchor="middle" fill="#333" transform="matrix(0.86 0 0 1 734.00 529.80)">30</text>
<rect x="438.20" y="464.00" width="51.2" height="24" fill="#ededed" stroke="#505050" stroke-width="1.3"/>
<line x1="440.20" y1="476.00" x2="449.40" y2="476.00" stroke="#333" stroke-width="1.6" />
<text x="455.20" y="478.80" font-size="11" text-anchor="start" fill="#1e1e1e" font-weight="normal" >p-Q</text>
<text x="562.40" y="546.80" font-size="11" text-anchor="middle" fill="#1e1e1e" font-weight="normal" >Q [l/min]</text>
<text x="0" y="0" font-size="11.4" text-anchor="middle" fill="#1e1e1e" transform="translate(400.6 409.20) rotate(-90)">p [bar]</text>
<path d="M432.20 392.70 L432.45 388.69 L432.70 385.75 L433.76 381.58 L434.82 379.99 L438.54 379.19 L442.26 378.66 L445.43 377.25 L448.60 375.78 L451.33 375.03 L454.06 374.39 L456.79 373.84 L459.52 373.34 L462.25 372.88 L464.98 372.43 L467.71 371.97 L470.37 371.50 L473.02 371.05 L475.67 370.61 L478.33 370.18 L480.98 369.77 L483.63 369.37 L486.29 368.99 L488.94 368.62 L491.59 368.28 L494.25 367.96 L496.90 367.65 L499.55 367.36 L502.21 367.06 L504.86 366.77 L507.51 366.47 L510.16 366.15 L512.83 365.81 L515.50 365.46 L518.16 365.11 L520.83 364.75 L523.49 364.39 L526.16 364.03 L528.83 363.68 L531.49 363.34 L534.15 363.01 L536.80 362.69 L539.45 362.37 L542.11 362.06 L544.76 361.75 L547.41 361.43 L550.07 361.12 L552.72 360.80 L555.46 360.46 L558.19 360.11 L560.93 359.77 L563.66 359.42 L566.40 359.07 L569.14 358.72 L571.87 358.38 L574.61 358.04 L577.35 357.71 L580.08 357.38 L582.76 357.07 L585.45 356.76 L588.13 356.45 L590.81 356.15 L593.50 355.84 L596.18 355.55 L598.86 355.25 L601.54 354.97 L604.23 354.69 L606.91 354.42 L609.59 354.16 L612.27 353.91 L614.80 353.68 L617.32 353.47 L619.85 353.26 L622.37 353.07 L624.89 352.87 L627.42 352.68 L629.94 352.50 L632.47 352.30 L634.99 352.11 L637.52 351.91 L640.04 351.70 L642.54 351.49 L645.04 351.27 L647.55 351.05 L650.05 350.83 L652.55 350.61 L655.05 350.38 L657.56 350.14 L660.06 349.89 L662.86 349.60 L665.66 349.30 L668.47 348.99 L671.27 348.67 L674.07 348.34 L676.87 348.01 L679.68 347.68 L682.39 347.37 L685.11 347.04 L687.82 346.72 L690.54 346.39 L693.26 346.06 L695.97 345.72 L698.69 345.39 L701.41 345.04 L704.12 344.69 L706.84 344.34 L709.55 343.98 L712.27 343.61 L714.99 343.23 L717.70 342.85 L720.42 342.46 L723.14 342.08 L725.85 341.69 L728.57 341.30 L731.28 340.91 L734.00 340.53" fill="none" stroke="#262626" stroke-width="1.3" stroke-linejoin="round"/>
<path d="M432.20 461.60 L432.45 422.15 L432.70 397.39 L433.76 389.91 L434.82 387.82 L438.54 386.34 L442.26 385.75 L444.77 385.42 L447.29 385.17 L449.80 384.98 L452.32 384.79 L454.83 384.57 L457.35 384.28 L459.99 383.84 L462.63 383.28 L465.27 382.63 L467.91 381.93 L470.55 381.20 L473.19 380.51 L475.84 379.87 L478.48 379.32 L481.12 378.86 L483.76 378.43 L486.40 378.02 L489.04 377.63 L491.68 377.26 L494.32 376.89 L496.96 376.54 L499.60 376.18 L502.24 375.83 L504.88 375.50 L507.52 375.17 L510.16 374.85 L512.81 374.54 L515.45 374.22 L518.09 373.90 L520.73 373.57 L523.37 373.24 L526.01 372.90 L528.65 372.57 L531.29 372.23 L533.93 371.89 L536.57 371.54 L539.21 371.19 L541.85 370.83 L544.49 370.44 L547.14 370.03 L549.78 369.60 L552.42 369.17 L555.06 368.75 L557.70 368.35 L560.34 367.99 L562.98 367.69 L565.83 367.41 L568.68 367.18 L571.53 366.96 L574.38 366.75 L577.23 366.53 L580.08 366.28 L582.76 366.02 L585.45 365.75 L588.13 365.46 L590.81 365.17 L593.50 364.87 L596.18 364.55 L598.86 364.24 L601.54 363.91 L604.23 363.59 L606.91 363.26 L609.59 362.93 L612.27 362.60 L614.80 362.29 L617.32 361.98 L619.85 361.66 L622.37 361.34 L624.89 361.02 L627.42 360.69 L629.94 360.36 L632.47 360.02 L634.99 359.68 L637.52 359.34 L640.04 358.99 L642.70 358.62 L645.35 358.25 L648.01 357.88 L650.66 357.48 L653.32 357.05 L655.82 356.61 L658.32 356.14 L660.83 355.64 L663.33 355.13 L665.83 354.60 L668.33 354.07 L670.84 353.55 L673.34 353.04 L676.18 352.47 L679.03 351.90 L681.87 351.34 L684.72 350.77 L687.57 350.20 L690.41 349.62 L693.26 349.02 L695.76 348.48 L698.26 347.91 L700.76 347.32 L703.27 346.74 L705.77 346.15 L708.27 345.59 L710.77 345.05 L713.28 344.54 L715.87 344.05 L718.46 343.59 L721.05 343.14 L723.64 342.71 L726.23 342.28 L728.82 341.86 L731.41 341.43 L734.00 341.00" fill="none" stroke="#262626" stroke-width="1.3" stroke-linejoin="round"/>
<rect x="432.40" y="589.30" width="301.30" height="188.10" fill="#f2f2f2"/>
<line x1="432.40" y1="763.50" x2="733.70" y2="763.50" stroke="#838383" stroke-width="1" stroke-dasharray="2 2.6"/>
<line x1="432.40" y1="750.50" x2="733.70" y2="750.50" stroke="#838383" stroke-width="1" stroke-dasharray="2 2.6"/>
<line x1="432.40" y1="737.50" x2="733.70" y2="737.50" stroke="#838383" stroke-width="1" stroke-dasharray="2 2.6"/>
<line x1="432.40" y1="723.50" x2="733.70" y2="723.50" stroke="#838383" stroke-width="1" stroke-dasharray="2 2.6"/>
<line x1="432.40" y1="710.50" x2="733.70" y2="710.50" stroke="#838383" stroke-width="1" stroke-dasharray="2 2.6"/>
<line x1="432.40" y1="696.50" x2="733.70" y2="696.50" stroke="#838383" stroke-width="1" stroke-dasharray="2 2.6"/>
<line x1="432.40" y1="683.50" x2="733.70" y2="683.50" stroke="#838383" stroke-width="1" stroke-dasharray="2 2.6"/>
<line x1="432.40" y1="669.50" x2="733.70" y2="669.50" stroke="#838383" stroke-width="1" stroke-dasharray="2 2.6"/>
<line x1="432.40" y1="656.50" x2="733.70" y2="656.50" stroke="#838383" stroke-width="1" stroke-dasharray="2 2.6"/>
<line x1="432.40" y1="643.50" x2="733.70" y2="643.50" stroke="#838383" stroke-width="1" stroke-dasharray="2 2.6"/>
<line x1="432.40" y1="629.50" x2="733.70" y2="629.50" stroke="#838383" stroke-width="1" stroke-dasharray="2 2.6"/>
<line x1="432.40" y1="616.50" x2="733.70" y2="616.50" stroke="#838383" stroke-width="1" stroke-dasharray="2 2.6"/>
<line x1="432.40" y1="602.50" x2="733.70" y2="602.50" stroke="#838383" stroke-width="1" stroke-dasharray="2 2.6"/>
<line x1="442.50" y1="589.30" x2="442.50" y2="777.40" stroke="#6e6e6e" stroke-width="1" stroke-dasharray="2 2.6"/>
<line x1="452.50" y1="589.30" x2="452.50" y2="777.40" stroke="#6e6e6e" stroke-width="1" stroke-dasharray="2 2.6"/>
<line x1="462.50" y1="589.30" x2="462.50" y2="777.40" stroke="#6e6e6e" stroke-width="1" stroke-dasharray="2 2.6"/>
<line x1="472.50" y1="589.30" x2="472.50" y2="777.40" stroke="#6e6e6e" stroke-width="1" stroke-dasharray="2 2.6"/>
<line x1="482.50" y1="589.30" x2="482.50" y2="777.40" stroke="#6e6e6e" stroke-width="1" stroke-dasharray="2 2.6"/>
<line x1="492.50" y1="589.30" x2="492.50" y2="777.40" stroke="#6e6e6e" stroke-width="1" stroke-dasharray="2 2.6"/>
<line x1="502.50" y1="589.30" x2="502.50" y2="777.40" stroke="#6e6e6e" stroke-width="1" stroke-dasharray="2 2.6"/>
<line x1="512.50" y1="589.30" x2="512.50" y2="777.40" stroke="#6e6e6e" stroke-width="1" stroke-dasharray="2 2.6"/>
<line x1="522.50" y1="589.30" x2="522.50" y2="777.40" stroke="#6e6e6e" stroke-width="1" stroke-dasharray="2 2.6"/>
<line x1="532.50" y1="589.30" x2="532.50" y2="777.40" stroke="#6e6e6e" stroke-width="1" stroke-dasharray="2 2.6"/>
<line x1="542.50" y1="589.30" x2="542.50" y2="777.40" stroke="#6e6e6e" stroke-width="1" stroke-dasharray="2 2.6"/>
<line x1="552.50" y1="589.30" x2="552.50" y2="777.40" stroke="#6e6e6e" stroke-width="1" stroke-dasharray="2 2.6"/>
<line x1="562.50" y1="589.30" x2="562.50" y2="777.40" stroke="#6e6e6e" stroke-width="1" stroke-dasharray="2 2.6"/>
<line x1="573.50" y1="589.30" x2="573.50" y2="777.40" stroke="#6e6e6e" stroke-width="1" stroke-dasharray="2 2.6"/>
<line x1="583.50" y1="589.30" x2="583.50" y2="777.40" stroke="#6e6e6e" stroke-width="1" stroke-dasharray="2 2.6"/>
<line x1="593.50" y1="589.30" x2="593.50" y2="777.40" stroke="#6e6e6e" stroke-width="1" stroke-dasharray="2 2.6"/>
<line x1="603.50" y1="589.30" x2="603.50" y2="777.40" stroke="#6e6e6e" stroke-width="1" stroke-dasharray="2 2.6"/>
<line x1="613.50" y1="589.30" x2="613.50" y2="777.40" stroke="#6e6e6e" stroke-width="1" stroke-dasharray="2 2.6"/>
<line x1="623.50" y1="589.30" x2="623.50" y2="777.40" stroke="#6e6e6e" stroke-width="1" stroke-dasharray="2 2.6"/>
<line x1="633.50" y1="589.30" x2="633.50" y2="777.40" stroke="#6e6e6e" stroke-width="1" stroke-dasharray="2 2.6"/>
<line x1="643.50" y1="589.30" x2="643.50" y2="777.40" stroke="#6e6e6e" stroke-width="1" stroke-dasharray="2 2.6"/>
<line x1="653.50" y1="589.30" x2="653.50" y2="777.40" stroke="#6e6e6e" stroke-width="1" stroke-dasharray="2 2.6"/>
<line x1="663.50" y1="589.30" x2="663.50" y2="777.40" stroke="#6e6e6e" stroke-width="1" stroke-dasharray="2 2.6"/>
<line x1="673.50" y1="589.30" x2="673.50" y2="777.40" stroke="#6e6e6e" stroke-width="1" stroke-dasharray="2 2.6"/>
<line x1="683.50" y1="589.30" x2="683.50" y2="777.40" stroke="#6e6e6e" stroke-width="1" stroke-dasharray="2 2.6"/>
<line x1="693.50" y1="589.30" x2="693.50" y2="777.40" stroke="#6e6e6e" stroke-width="1" stroke-dasharray="2 2.6"/>
<line x1="703.50" y1="589.30" x2="703.50" y2="777.40" stroke="#6e6e6e" stroke-width="1" stroke-dasharray="2 2.6"/>
<line x1="713.50" y1="589.30" x2="713.50" y2="777.40" stroke="#6e6e6e" stroke-width="1" stroke-dasharray="2 2.6"/>
<line x1="723.50" y1="589.30" x2="723.50" y2="777.40" stroke="#6e6e6e" stroke-width="1" stroke-dasharray="2 2.6"/>
<line x1="432.40" y1="588.90" x2="734.50" y2="588.90" stroke="#606060" stroke-width="1.8" />
<line x1="733.80" y1="588.90" x2="733.80" y2="777.40" stroke="#6a6a6a" stroke-width="1.6" />
<line x1="432.40" y1="588.80" x2="432.40" y2="777.90" stroke="#2e2e2e" stroke-width="1.3" />
<line x1="429.20" y1="777.40" x2="734.20" y2="777.40" stroke="#2e2e2e" stroke-width="1.3" />
<line x1="429.20" y1="777.40" x2="432.40" y2="777.40" stroke="#2e2e2e" stroke-width="1.2" />
<text font-size="6" font-weight="bold" text-anchor="end" fill="#333" transform="matrix(0.86 0 0 1 427.20 780.20)">0</text>
<line x1="430.60" y1="763.96" x2="432.40" y2="763.96" stroke="#2e2e2e" stroke-width="1.2" />
<line x1="429.20" y1="750.53" x2="432.40" y2="750.53" stroke="#2e2e2e" stroke-width="1.2" />
<text font-size="6" font-weight="bold" text-anchor="end" fill="#333" transform="matrix(0.86 0 0 1 427.20 753.33)">50</text>
<line x1="430.60" y1="737.09" x2="432.40" y2="737.09" stroke="#2e2e2e" stroke-width="1.2" />
<line x1="429.20" y1="723.66" x2="432.40" y2="723.66" stroke="#2e2e2e" stroke-width="1.2" />
<text font-size="6" font-weight="bold" text-anchor="end" fill="#333" transform="matrix(0.86 0 0 1 427.20 726.46)">100</text>
<line x1="430.60" y1="710.22" x2="432.40" y2="710.22" stroke="#2e2e2e" stroke-width="1.2" />
<line x1="429.20" y1="696.79" x2="432.40" y2="696.79" stroke="#2e2e2e" stroke-width="1.2" />
<text font-size="6" font-weight="bold" text-anchor="end" fill="#333" transform="matrix(0.86 0 0 1 427.20 699.59)">150</text>
<line x1="430.60" y1="683.35" x2="432.40" y2="683.35" stroke="#2e2e2e" stroke-width="1.2" />
<line x1="429.20" y1="669.91" x2="432.40" y2="669.91" stroke="#2e2e2e" stroke-width="1.2" />
<text font-size="6" font-weight="bold" text-anchor="end" fill="#333" transform="matrix(0.86 0 0 1 427.20 672.71)">200</text>
<line x1="430.60" y1="656.48" x2="432.40" y2="656.48" stroke="#2e2e2e" stroke-width="1.2" />
<line x1="429.20" y1="643.04" x2="432.40" y2="643.04" stroke="#2e2e2e" stroke-width="1.2" />
<text font-size="6" font-weight="bold" text-anchor="end" fill="#333" transform="matrix(0.86 0 0 1 427.20 645.84)">250</text>
<line x1="430.60" y1="629.61" x2="432.40" y2="629.61" stroke="#2e2e2e" stroke-width="1.2" />
<line x1="429.20" y1="616.17" x2="432.40" y2="616.17" stroke="#2e2e2e" stroke-width="1.2" />
<text font-size="6" font-weight="bold" text-anchor="end" fill="#333" transform="matrix(0.86 0 0 1 427.20 618.97)">300</text>
<line x1="430.60" y1="602.74" x2="432.40" y2="602.74" stroke="#2e2e2e" stroke-width="1.2" />
<line x1="429.20" y1="589.30" x2="432.40" y2="589.30" stroke="#2e2e2e" stroke-width="1.2" />
<text font-size="6" font-weight="bold" text-anchor="end" fill="#333" transform="matrix(0.86 0 0 1 427.20 592.10)">350</text>
<line x1="432.40" y1="774.40" x2="432.40" y2="777.40" stroke="#2e2e2e" stroke-width="1.2" />
<text font-size="6" font-weight="bold" text-anchor="middle" fill="#333" transform="matrix(0.86 0 0 1 432.40 787.40)">0</text>
<line x1="442.44" y1="775.60" x2="442.44" y2="777.40" stroke="#2e2e2e" stroke-width="1.2" />
<line x1="452.49" y1="774.40" x2="452.49" y2="777.40" stroke="#2e2e2e" stroke-width="1.2" />
<text font-size="6" font-weight="bold" text-anchor="middle" fill="#333" transform="matrix(0.86 0 0 1 452.49 787.40)">2</text>
<line x1="462.53" y1="775.60" x2="462.53" y2="777.40" stroke="#2e2e2e" stroke-width="1.2" />
<line x1="472.57" y1="774.40" x2="472.57" y2="777.40" stroke="#2e2e2e" stroke-width="1.2" />
<text font-size="6" font-weight="bold" text-anchor="middle" fill="#333" transform="matrix(0.86 0 0 1 472.57 787.40)">4</text>
<line x1="482.62" y1="775.60" x2="482.62" y2="777.40" stroke="#2e2e2e" stroke-width="1.2" />
<line x1="492.66" y1="774.40" x2="492.66" y2="777.40" stroke="#2e2e2e" stroke-width="1.2" />
<text font-size="6" font-weight="bold" text-anchor="middle" fill="#333" transform="matrix(0.86 0 0 1 492.66 787.40)">6</text>
<line x1="502.70" y1="775.60" x2="502.70" y2="777.40" stroke="#2e2e2e" stroke-width="1.2" />
<line x1="512.75" y1="774.40" x2="512.75" y2="777.40" stroke="#2e2e2e" stroke-width="1.2" />
<text font-size="6" font-weight="bold" text-anchor="middle" fill="#333" transform="matrix(0.86 0 0 1 512.75 787.40)">8</text>
<line x1="522.79" y1="775.60" x2="522.79" y2="777.40" stroke="#2e2e2e" stroke-width="1.2" />
<line x1="532.83" y1="774.40" x2="532.83" y2="777.40" stroke="#2e2e2e" stroke-width="1.2" />
<text font-size="6" font-weight="bold" text-anchor="middle" fill="#333" transform="matrix(0.86 0 0 1 532.83 787.40)">10</text>
<line x1="542.88" y1="775.60" x2="542.88" y2="777.40" stroke="#2e2e2e" stroke-width="1.2" />
<line x1="552.92" y1="774.40" x2="552.92" y2="777.40" stroke="#2e2e2e" stroke-width="1.2" />
<text font-size="6" font-weight="bold" text-anchor="middle" fill="#333" transform="matrix(0.86 0 0 1 552.92 787.40)">12</text>
<line x1="562.96" y1="775.60" x2="562.96" y2="777.40" stroke="#2e2e2e" stroke-width="1.2" />
<line x1="573.01" y1="774.40" x2="573.01" y2="777.40" stroke="#2e2e2e" stroke-width="1.2" />
<text font-size="6" font-weight="bold" text-anchor="middle" fill="#333" transform="matrix(0.86 0 0 1 573.01 787.40)">14</text>
<line x1="583.05" y1="775.60" x2="583.05" y2="777.40" stroke="#2e2e2e" stroke-width="1.2" />
<line x1="593.09" y1="774.40" x2="593.09" y2="777.40" stroke="#2e2e2e" stroke-width="1.2" />
<text font-size="6" font-weight="bold" text-anchor="middle" fill="#333" transform="matrix(0.86 0 0 1 593.09 787.40)">16</text>
<line x1="603.14" y1="775.60" x2="603.14" y2="777.40" stroke="#2e2e2e" stroke-width="1.2" />
<line x1="613.18" y1="774.40" x2="613.18" y2="777.40" stroke="#2e2e2e" stroke-width="1.2" />
<text font-size="6" font-weight="bold" text-anchor="middle" fill="#333" transform="matrix(0.86 0 0 1 613.18 787.40)">18</text>
<line x1="623.22" y1="775.60" x2="623.22" y2="777.40" stroke="#2e2e2e" stroke-width="1.2" />
<line x1="633.27" y1="774.40" x2="633.27" y2="777.40" stroke="#2e2e2e" stroke-width="1.2" />
<text font-size="6" font-weight="bold" text-anchor="middle" fill="#333" transform="matrix(0.86 0 0 1 633.27 787.40)">20</text>
<line x1="643.31" y1="775.60" x2="643.31" y2="777.40" stroke="#2e2e2e" stroke-width="1.2" />
<line x1="653.35" y1="774.40" x2="653.35" y2="777.40" stroke="#2e2e2e" stroke-width="1.2" />
<text font-size="6" font-weight="bold" text-anchor="middle" fill="#333" transform="matrix(0.86 0 0 1 653.35 787.40)">22</text>
<line x1="663.40" y1="775.60" x2="663.40" y2="777.40" stroke="#2e2e2e" stroke-width="1.2" />
<line x1="673.44" y1="774.40" x2="673.44" y2="777.40" stroke="#2e2e2e" stroke-width="1.2" />
<text font-size="6" font-weight="bold" text-anchor="middle" fill="#333" transform="matrix(0.86 0 0 1 673.44 787.40)">24</text>
<line x1="683.48" y1="775.60" x2="683.48" y2="777.40" stroke="#2e2e2e" stroke-width="1.2" />
<line x1="693.53" y1="774.40" x2="693.53" y2="777.40" stroke="#2e2e2e" stroke-width="1.2" />
<text font-size="6" font-weight="bold" text-anchor="middle" fill="#333" transform="matrix(0.86 0 0 1 693.53 787.40)">26</text>
<line x1="703.57" y1="775.60" x2="703.57" y2="777.40" stroke="#2e2e2e" stroke-width="1.2" />
<line x1="713.61" y1="774.40" x2="713.61" y2="777.40" stroke="#2e2e2e" stroke-width="1.2" />
<text font-size="6" font-weight="bold" text-anchor="middle" fill="#333" transform="matrix(0.86 0 0 1 713.61 787.40)">28</text>
<line x1="723.66" y1="775.60" x2="723.66" y2="777.40" stroke="#2e2e2e" stroke-width="1.2" />
<line x1="733.70" y1="774.40" x2="733.70" y2="777.40" stroke="#2e2e2e" stroke-width="1.2" />
<text font-size="6" font-weight="bold" text-anchor="middle" fill="#333" transform="matrix(0.86 0 0 1 733.70 787.40)">30</text>
<rect x="438.40" y="721.60" width="51.2" height="24" fill="#ededed" stroke="#505050" stroke-width="1.3"/>
<line x1="440.40" y1="733.60" x2="449.60" y2="733.60" stroke="#333" stroke-width="1.6" />
<text x="455.40" y="737.20" font-size="11" text-anchor="start" fill="#1e1e1e" font-weight="normal" >p-Q</text>
<text x="562.40" y="804.60" font-size="11" text-anchor="middle" fill="#1e1e1e" font-weight="normal" >Q [l/min]</text>
<text x="0" y="0" font-size="11.4" text-anchor="middle" fill="#1e1e1e" transform="translate(400.6 673.60) rotate(-90)">p [bar]</text>
<path d="M432.40 648.42 L432.65 645.03 L432.90 642.51 L433.96 638.63 L435.01 637.13 L438.73 636.44 L442.44 636.06 L444.95 635.61 L447.46 635.12 L449.98 634.58 L452.49 634.02 L455.00 633.45 L457.51 632.87 L460.02 632.31 L462.53 631.76 L465.04 631.25 L467.55 630.79 L470.25 630.34 L472.95 629.91 L475.65 629.50 L478.35 629.11 L481.05 628.73 L483.75 628.35 L486.45 627.96 L489.14 627.56 L491.84 627.15 L494.54 626.73 L497.24 626.30 L499.94 625.88 L502.64 625.46 L505.34 625.06 L508.04 624.69 L510.74 624.34 L513.37 624.04 L516.01 623.77 L518.65 623.51 L521.28 623.27 L523.92 623.02 L526.56 622.77 L529.19 622.49 L531.83 622.19 L534.47 621.84 L537.10 621.43 L539.74 620.99 L542.37 620.53 L545.01 620.08 L547.65 619.66 L550.28 619.28 L552.92 618.97 L555.63 618.70 L558.34 618.47 L561.06 618.26 L563.77 618.06 L566.48 617.88 L569.19 617.70 L571.90 617.52 L574.61 617.32 L577.33 617.11 L580.04 616.87 L582.72 616.60 L585.39 616.30 L588.07 615.97 L590.75 615.62 L593.43 615.26 L596.11 614.90 L598.78 614.54 L601.46 614.19 L604.14 613.86 L606.82 613.55 L609.50 613.28 L612.18 613.05 L614.71 612.87 L617.25 612.72 L619.79 612.58 L622.33 612.46 L624.87 612.35 L627.41 612.23 L629.94 612.11 L632.48 611.98 L635.02 611.83 L637.56 611.65 L640.10 611.44 L642.75 611.11 L645.40 610.65 L648.05 610.15 L650.70 609.70 L653.35 609.40 L655.96 609.24 L658.58 609.13 L661.19 609.03 L663.80 608.92 L666.41 608.75 L669.92 608.31 L673.44 607.84 L676.05 607.61 L678.66 607.39 L681.27 607.21 L683.89 607.08 L686.50 607.04 L689.11 607.06 L691.72 607.11 L694.33 607.17 L696.94 607.23 L699.55 607.25 L702.16 607.21 L704.78 607.09 L707.39 606.91 L710.00 606.69 L712.61 606.44 L715.62 605.87 L718.63 605.08 L721.65 604.62 L724.66 604.52 L727.67 604.45 L730.69 604.40 L733.70 604.35" fill="none" stroke="#262626" stroke-width="1.3" stroke-linejoin="round"/>
<path d="M432.40 661.85 L432.65 656.83 L432.90 653.25 L434.51 646.79 L436.12 644.66 L438.70 644.19 L441.29 643.96 L443.87 643.80 L446.46 643.58 L449.10 643.28 L451.73 642.97 L454.37 642.65 L457.01 642.33 L459.64 641.99 L462.28 641.64 L464.92 641.27 L467.55 640.89 L470.25 640.48 L472.95 640.05 L475.65 639.59 L478.35 639.11 L481.05 638.63 L483.75 638.13 L486.45 637.63 L489.14 637.13 L491.84 636.60 L494.54 636.01 L497.24 635.40 L499.94 634.79 L502.64 634.21 L505.34 633.68 L508.04 633.23 L510.74 632.89 L513.37 632.64 L516.01 632.43 L518.65 632.26 L521.28 632.10 L523.92 631.95 L526.56 631.79 L529.19 631.60 L531.83 631.38 L534.47 631.11 L537.10 630.80 L539.74 630.46 L542.37 630.10 L545.01 629.72 L547.65 629.34 L550.28 628.95 L552.92 628.59 L555.63 628.21 L558.34 627.82 L561.06 627.43 L563.77 627.04 L566.48 626.64 L569.19 626.25 L571.90 625.86 L574.61 625.48 L577.33 625.12 L580.04 624.77 L582.72 624.44 L585.39 624.11 L588.07 623.80 L590.75 623.49 L593.43 623.18 L596.11 622.88 L598.78 622.59 L601.46 622.30 L604.14 622.01 L606.82 621.73 L609.50 621.45 L612.18 621.17 L614.71 620.91 L617.25 620.67 L619.79 620.43 L622.33 620.20 L624.87 619.97 L627.41 619.74 L629.94 619.51 L632.48 619.27 L635.02 619.02 L637.56 618.76 L640.10 618.48 L642.75 618.17 L645.40 617.84 L648.05 617.49 L650.70 617.13 L653.35 616.76 L655.96 616.38 L658.58 615.98 L661.19 615.56 L663.80 615.16 L666.41 614.77 L669.02 614.40 L671.63 614.03 L674.24 613.68 L676.85 613.35 L679.47 613.05 L682.28 612.79 L685.09 612.57 L687.90 612.36 L690.71 612.13 L693.53 611.87 L696.29 611.58 L699.05 611.27 L701.81 610.91 L704.57 610.47 L707.59 609.80 L710.60 608.95 L713.61 608.11 L716.29 607.37 L718.97 606.63 L721.65 606.07 L724.66 605.65 L727.67 605.32 L730.69 605.03 L733.70 604.72" fill="none" stroke="#262626" stroke-width="1.3" stroke-linejoin="round"/>
<rect x="431.40" y="847.80" width="302.20" height="187.70" fill="#f2f2f2"/>
<line x1="431.40" y1="1025.50" x2="733.60" y2="1025.50" stroke="#838383" stroke-width="1" stroke-dasharray="2 2.6"/>
<line x1="431.40" y1="1014.50" x2="733.60" y2="1014.50" stroke="#838383" stroke-width="1" stroke-dasharray="2 2.6"/>
<line x1="431.40" y1="1004.50" x2="733.60" y2="1004.50" stroke="#838383" stroke-width="1" stroke-dasharray="2 2.6"/>
<line x1="431.40" y1="993.50" x2="733.60" y2="993.50" stroke="#838383" stroke-width="1" stroke-dasharray="2 2.6"/>
<line x1="431.40" y1="983.50" x2="733.60" y2="983.50" stroke="#838383" stroke-width="1" stroke-dasharray="2 2.6"/>
<line x1="431.40" y1="972.50" x2="733.60" y2="972.50" stroke="#838383" stroke-width="1" stroke-dasharray="2 2.6"/>
<line x1="431.40" y1="962.50" x2="733.60" y2="962.50" stroke="#838383" stroke-width="1" stroke-dasharray="2 2.6"/>
<line x1="431.40" y1="952.50" x2="733.60" y2="952.50" stroke="#838383" stroke-width="1" stroke-dasharray="2 2.6"/>
<line x1="431.40" y1="941.50" x2="733.60" y2="941.50" stroke="#838383" stroke-width="1" stroke-dasharray="2 2.6"/>
<line x1="431.40" y1="931.50" x2="733.60" y2="931.50" stroke="#838383" stroke-width="1" stroke-dasharray="2 2.6"/>
<line x1="431.40" y1="920.50" x2="733.60" y2="920.50" stroke="#838383" stroke-width="1" stroke-dasharray="2 2.6"/>
<line x1="431.40" y1="910.50" x2="733.60" y2="910.50" stroke="#838383" stroke-width="1" stroke-dasharray="2 2.6"/>
<line x1="431.40" y1="899.50" x2="733.60" y2="899.50" stroke="#838383" stroke-width="1" stroke-dasharray="2 2.6"/>
<line x1="431.40" y1="889.50" x2="733.60" y2="889.50" stroke="#838383" stroke-width="1" stroke-dasharray="2 2.6"/>
<line x1="431.40" y1="879.50" x2="733.60" y2="879.50" stroke="#838383" stroke-width="1" stroke-dasharray="2 2.6"/>
<line x1="431.40" y1="868.50" x2="733.60" y2="868.50" stroke="#838383" stroke-width="1" stroke-dasharray="2 2.6"/>
<line x1="431.40" y1="858.50" x2="733.60" y2="858.50" stroke="#838383" stroke-width="1" stroke-dasharray="2 2.6"/>
<line x1="441.50" y1="847.80" x2="441.50" y2="1035.50" stroke="#6e6e6e" stroke-width="1" stroke-dasharray="2 2.6"/>
<line x1="451.50" y1="847.80" x2="451.50" y2="1035.50" stroke="#6e6e6e" stroke-width="1" stroke-dasharray="2 2.6"/>
<line x1="461.50" y1="847.80" x2="461.50" y2="1035.50" stroke="#6e6e6e" stroke-width="1" stroke-dasharray="2 2.6"/>
<line x1="471.50" y1="847.80" x2="471.50" y2="1035.50" stroke="#6e6e6e" stroke-width="1" stroke-dasharray="2 2.6"/>
<line x1="481.50" y1="847.80" x2="481.50" y2="1035.50" stroke="#6e6e6e" stroke-width="1" stroke-dasharray="2 2.6"/>
<line x1="491.50" y1="847.80" x2="491.50" y2="1035.50" stroke="#6e6e6e" stroke-width="1" stroke-dasharray="2 2.6"/>
<line x1="501.50" y1="847.80" x2="501.50" y2="1035.50" stroke="#6e6e6e" stroke-width="1" stroke-dasharray="2 2.6"/>
<line x1="511.50" y1="847.80" x2="511.50" y2="1035.50" stroke="#6e6e6e" stroke-width="1" stroke-dasharray="2 2.6"/>
<line x1="522.50" y1="847.80" x2="522.50" y2="1035.50" stroke="#6e6e6e" stroke-width="1" stroke-dasharray="2 2.6"/>
<line x1="532.50" y1="847.80" x2="532.50" y2="1035.50" stroke="#6e6e6e" stroke-width="1" stroke-dasharray="2 2.6"/>
<line x1="542.50" y1="847.80" x2="542.50" y2="1035.50" stroke="#6e6e6e" stroke-width="1" stroke-dasharray="2 2.6"/>
<line x1="552.50" y1="847.80" x2="552.50" y2="1035.50" stroke="#6e6e6e" stroke-width="1" stroke-dasharray="2 2.6"/>
<line x1="562.50" y1="847.80" x2="562.50" y2="1035.50" stroke="#6e6e6e" stroke-width="1" stroke-dasharray="2 2.6"/>
<line x1="572.50" y1="847.80" x2="572.50" y2="1035.50" stroke="#6e6e6e" stroke-width="1" stroke-dasharray="2 2.6"/>
<line x1="582.50" y1="847.80" x2="582.50" y2="1035.50" stroke="#6e6e6e" stroke-width="1" stroke-dasharray="2 2.6"/>
<line x1="592.50" y1="847.80" x2="592.50" y2="1035.50" stroke="#6e6e6e" stroke-width="1" stroke-dasharray="2 2.6"/>
<line x1="602.50" y1="847.80" x2="602.50" y2="1035.50" stroke="#6e6e6e" stroke-width="1" stroke-dasharray="2 2.6"/>
<line x1="612.50" y1="847.80" x2="612.50" y2="1035.50" stroke="#6e6e6e" stroke-width="1" stroke-dasharray="2 2.6"/>
<line x1="622.50" y1="847.80" x2="622.50" y2="1035.50" stroke="#6e6e6e" stroke-width="1" stroke-dasharray="2 2.6"/>
<line x1="632.50" y1="847.80" x2="632.50" y2="1035.50" stroke="#6e6e6e" stroke-width="1" stroke-dasharray="2 2.6"/>
<line x1="642.50" y1="847.80" x2="642.50" y2="1035.50" stroke="#6e6e6e" stroke-width="1" stroke-dasharray="2 2.6"/>
<line x1="653.50" y1="847.80" x2="653.50" y2="1035.50" stroke="#6e6e6e" stroke-width="1" stroke-dasharray="2 2.6"/>
<line x1="663.50" y1="847.80" x2="663.50" y2="1035.50" stroke="#6e6e6e" stroke-width="1" stroke-dasharray="2 2.6"/>
<line x1="673.50" y1="847.80" x2="673.50" y2="1035.50" stroke="#6e6e6e" stroke-width="1" stroke-dasharray="2 2.6"/>
<line x1="683.50" y1="847.80" x2="683.50" y2="1035.50" stroke="#6e6e6e" stroke-width="1" stroke-dasharray="2 2.6"/>
<line x1="693.50" y1="847.80" x2="693.50" y2="1035.50" stroke="#6e6e6e" stroke-width="1" stroke-dasharray="2 2.6"/>
<line x1="703.50" y1="847.80" x2="703.50" y2="1035.50" stroke="#6e6e6e" stroke-width="1" stroke-dasharray="2 2.6"/>
<line x1="713.50" y1="847.80" x2="713.50" y2="1035.50" stroke="#6e6e6e" stroke-width="1" stroke-dasharray="2 2.6"/>
<line x1="723.50" y1="847.80" x2="723.50" y2="1035.50" stroke="#6e6e6e" stroke-width="1" stroke-dasharray="2 2.6"/>
<line x1="431.40" y1="847.40" x2="734.40" y2="847.40" stroke="#606060" stroke-width="1.8" />
<line x1="733.70" y1="847.40" x2="733.70" y2="1035.50" stroke="#6a6a6a" stroke-width="1.6" />
<line x1="431.40" y1="847.30" x2="431.40" y2="1036.00" stroke="#2e2e2e" stroke-width="1.3" />
<line x1="428.20" y1="1035.50" x2="734.10" y2="1035.50" stroke="#2e2e2e" stroke-width="1.3" />
<line x1="428.20" y1="1035.50" x2="431.40" y2="1035.50" stroke="#2e2e2e" stroke-width="1.2" />
<text font-size="6" font-weight="bold" text-anchor="end" fill="#333" transform="matrix(0.86 0 0 1 426.20 1038.30)">0</text>
<line x1="429.60" y1="1025.07" x2="431.40" y2="1025.07" stroke="#2e2e2e" stroke-width="1.2" />
<line x1="428.20" y1="1014.64" x2="431.40" y2="1014.64" stroke="#2e2e2e" stroke-width="1.2" />
<text font-size="6" font-weight="bold" text-anchor="end" fill="#333" transform="matrix(0.86 0 0 1 426.20 1017.44)">50</text>
<line x1="429.60" y1="1004.22" x2="431.40" y2="1004.22" stroke="#2e2e2e" stroke-width="1.2" />
<line x1="428.20" y1="993.79" x2="431.40" y2="993.79" stroke="#2e2e2e" stroke-width="1.2" />
<text font-size="6" font-weight="bold" text-anchor="end" fill="#333" transform="matrix(0.86 0 0 1 426.20 996.59)">100</text>
<line x1="429.60" y1="983.36" x2="431.40" y2="983.36" stroke="#2e2e2e" stroke-width="1.2" />
<line x1="428.20" y1="972.93" x2="431.40" y2="972.93" stroke="#2e2e2e" stroke-width="1.2" />
<text font-size="6" font-weight="bold" text-anchor="end" fill="#333" transform="matrix(0.86 0 0 1 426.20 975.73)">150</text>
<line x1="429.60" y1="962.51" x2="431.40" y2="962.51" stroke="#2e2e2e" stroke-width="1.2" />
<line x1="428.20" y1="952.08" x2="431.40" y2="952.08" stroke="#2e2e2e" stroke-width="1.2" />
<text font-size="6" font-weight="bold" text-anchor="end" fill="#333" transform="matrix(0.86 0 0 1 426.20 954.88)">200</text>
<line x1="429.60" y1="941.65" x2="431.40" y2="941.65" stroke="#2e2e2e" stroke-width="1.2" />
<line x1="428.20" y1="931.22" x2="431.40" y2="931.22" stroke="#2e2e2e" stroke-width="1.2" />
<text font-size="6" font-weight="bold" text-anchor="end" fill="#333" transform="matrix(0.86 0 0 1 426.20 934.02)">250</text>
<line x1="429.60" y1="920.79" x2="431.40" y2="920.79" stroke="#2e2e2e" stroke-width="1.2" />
<line x1="428.20" y1="910.37" x2="431.40" y2="910.37" stroke="#2e2e2e" stroke-width="1.2" />
<text font-size="6" font-weight="bold" text-anchor="end" fill="#333" transform="matrix(0.86 0 0 1 426.20 913.17)">300</text>
<line x1="429.60" y1="899.94" x2="431.40" y2="899.94" stroke="#2e2e2e" stroke-width="1.2" />
<line x1="428.20" y1="889.51" x2="431.40" y2="889.51" stroke="#2e2e2e" stroke-width="1.2" />
<text font-size="6" font-weight="bold" text-anchor="end" fill="#333" transform="matrix(0.86 0 0 1 426.20 892.31)">350</text>
<line x1="429.60" y1="879.08" x2="431.40" y2="879.08" stroke="#2e2e2e" stroke-width="1.2" />
<line x1="428.20" y1="868.66" x2="431.40" y2="868.66" stroke="#2e2e2e" stroke-width="1.2" />
<text font-size="6" font-weight="bold" text-anchor="end" fill="#333" transform="matrix(0.86 0 0 1 426.20 871.46)">400</text>
<line x1="429.60" y1="858.23" x2="431.40" y2="858.23" stroke="#2e2e2e" stroke-width="1.2" />
<line x1="428.20" y1="847.80" x2="431.40" y2="847.80" stroke="#2e2e2e" stroke-width="1.2" />
<text font-size="6" font-weight="bold" text-anchor="end" fill="#333" transform="matrix(0.86 0 0 1 426.20 850.60)">450</text>
<line x1="431.40" y1="1032.50" x2="431.40" y2="1035.50" stroke="#2e2e2e" stroke-width="1.2" />
<text font-size="6" font-weight="bold" text-anchor="middle" fill="#333" transform="matrix(0.86 0 0 1 431.40 1045.50)">0</text>
<line x1="441.47" y1="1033.70" x2="441.47" y2="1035.50" stroke="#2e2e2e" stroke-width="1.2" />
<line x1="451.55" y1="1032.50" x2="451.55" y2="1035.50" stroke="#2e2e2e" stroke-width="1.2" />
<text font-size="6" font-weight="bold" text-anchor="middle" fill="#333" transform="matrix(0.86 0 0 1 451.55 1045.50)">2</text>
<line x1="461.62" y1="1033.70" x2="461.62" y2="1035.50" stroke="#2e2e2e" stroke-width="1.2" />
<line x1="471.69" y1="1032.50" x2="471.69" y2="1035.50" stroke="#2e2e2e" stroke-width="1.2" />
<text font-size="6" font-weight="bold" text-anchor="middle" fill="#333" transform="matrix(0.86 0 0 1 471.69 1045.50)">4</text>
<line x1="481.77" y1="1033.70" x2="481.77" y2="1035.50" stroke="#2e2e2e" stroke-width="1.2" />
<line x1="491.84" y1="1032.50" x2="491.84" y2="1035.50" stroke="#2e2e2e" stroke-width="1.2" />
<text font-size="6" font-weight="bold" text-anchor="middle" fill="#333" transform="matrix(0.86 0 0 1 491.84 1045.50)">6</text>
<line x1="501.91" y1="1033.70" x2="501.91" y2="1035.50" stroke="#2e2e2e" stroke-width="1.2" />
<line x1="511.99" y1="1032.50" x2="511.99" y2="1035.50" stroke="#2e2e2e" stroke-width="1.2" />
<text font-size="6" font-weight="bold" text-anchor="middle" fill="#333" transform="matrix(0.86 0 0 1 511.99 1045.50)">8</text>
<line x1="522.06" y1="1033.70" x2="522.06" y2="1035.50" stroke="#2e2e2e" stroke-width="1.2" />
<line x1="532.13" y1="1032.50" x2="532.13" y2="1035.50" stroke="#2e2e2e" stroke-width="1.2" />
<text font-size="6" font-weight="bold" text-anchor="middle" fill="#333" transform="matrix(0.86 0 0 1 532.13 1045.50)">10</text>
<line x1="542.21" y1="1033.70" x2="542.21" y2="1035.50" stroke="#2e2e2e" stroke-width="1.2" />
<line x1="552.28" y1="1032.50" x2="552.28" y2="1035.50" stroke="#2e2e2e" stroke-width="1.2" />
<text font-size="6" font-weight="bold" text-anchor="middle" fill="#333" transform="matrix(0.86 0 0 1 552.28 1045.50)">12</text>
<line x1="562.35" y1="1033.70" x2="562.35" y2="1035.50" stroke="#2e2e2e" stroke-width="1.2" />
<line x1="572.43" y1="1032.50" x2="572.43" y2="1035.50" stroke="#2e2e2e" stroke-width="1.2" />
<text font-size="6" font-weight="bold" text-anchor="middle" fill="#333" transform="matrix(0.86 0 0 1 572.43 1045.50)">14</text>
<line x1="582.50" y1="1033.70" x2="582.50" y2="1035.50" stroke="#2e2e2e" stroke-width="1.2" />
<line x1="592.57" y1="1032.50" x2="592.57" y2="1035.50" stroke="#2e2e2e" stroke-width="1.2" />
<text font-size="6" font-weight="bold" text-anchor="middle" fill="#333" transform="matrix(0.86 0 0 1 592.57 1045.50)">16</text>
<line x1="602.65" y1="1033.70" x2="602.65" y2="1035.50" stroke="#2e2e2e" stroke-width="1.2" />
<line x1="612.72" y1="1032.50" x2="612.72" y2="1035.50" stroke="#2e2e2e" stroke-width="1.2" />
<text font-size="6" font-weight="bold" text-anchor="middle" fill="#333" transform="matrix(0.86 0 0 1 612.72 1045.50)">18</text>
<line x1="622.79" y1="1033.70" x2="622.79" y2="1035.50" stroke="#2e2e2e" stroke-width="1.2" />
<line x1="632.87" y1="1032.50" x2="632.87" y2="1035.50" stroke="#2e2e2e" stroke-width="1.2" />
<text font-size="6" font-weight="bold" text-anchor="middle" fill="#333" transform="matrix(0.86 0 0 1 632.87 1045.50)">20</text>
<line x1="642.94" y1="1033.70" x2="642.94" y2="1035.50" stroke="#2e2e2e" stroke-width="1.2" />
<line x1="653.01" y1="1032.50" x2="653.01" y2="1035.50" stroke="#2e2e2e" stroke-width="1.2" />
<text font-size="6" font-weight="bold" text-anchor="middle" fill="#333" transform="matrix(0.86 0 0 1 653.01 1045.50)">22</text>
<line x1="663.09" y1="1033.70" x2="663.09" y2="1035.50" stroke="#2e2e2e" stroke-width="1.2" />
<line x1="673.16" y1="1032.50" x2="673.16" y2="1035.50" stroke="#2e2e2e" stroke-width="1.2" />
<text font-size="6" font-weight="bold" text-anchor="middle" fill="#333" transform="matrix(0.86 0 0 1 673.16 1045.50)">24</text>
<line x1="683.23" y1="1033.70" x2="683.23" y2="1035.50" stroke="#2e2e2e" stroke-width="1.2" />
<line x1="693.31" y1="1032.50" x2="693.31" y2="1035.50" stroke="#2e2e2e" stroke-width="1.2" />
<text font-size="6" font-weight="bold" text-anchor="middle" fill="#333" transform="matrix(0.86 0 0 1 693.31 1045.50)">26</text>
<line x1="703.38" y1="1033.70" x2="703.38" y2="1035.50" stroke="#2e2e2e" stroke-width="1.2" />
<line x1="713.45" y1="1032.50" x2="713.45" y2="1035.50" stroke="#2e2e2e" stroke-width="1.2" />
<text font-size="6" font-weight="bold" text-anchor="middle" fill="#333" transform="matrix(0.86 0 0 1 713.45 1045.50)">28</text>
<line x1="723.53" y1="1033.70" x2="723.53" y2="1035.50" stroke="#2e2e2e" stroke-width="1.2" />
<line x1="733.60" y1="1032.50" x2="733.60" y2="1035.50" stroke="#2e2e2e" stroke-width="1.2" />
<text font-size="6" font-weight="bold" text-anchor="middle" fill="#333" transform="matrix(0.86 0 0 1 733.60 1045.50)">30</text>
<rect x="437.40" y="978.40" width="51.2" height="24" fill="#ededed" stroke="#505050" stroke-width="1.3"/>
<line x1="439.40" y1="990.40" x2="448.60" y2="990.40" stroke="#333" stroke-width="1.6" />
<text x="454.40" y="993.60" font-size="11" text-anchor="start" fill="#1e1e1e" font-weight="normal" >p-Q</text>
<text x="562.40" y="1061.50" font-size="11" text-anchor="middle" fill="#1e1e1e" font-weight="normal" >Q [l/min]</text>
<text x="0" y="0" font-size="11.4" text-anchor="middle" fill="#1e1e1e" transform="translate(400.6 945.00) rotate(-90)">p [bar]</text>
<path d="M431.40 897.85 L431.40 885.88 L433.41 884.20 L435.43 883.09 L438.65 882.85 L441.88 882.67 L444.82 882.28 L447.76 881.69 L450.70 880.98 L453.64 880.22 L456.58 879.50 L459.23 878.86 L461.87 878.17 L464.52 877.46 L467.16 876.74 L469.80 876.02 L472.45 875.33 L475.09 874.68 L477.74 874.08 L480.51 873.51 L483.28 872.97 L486.05 872.47 L488.82 871.99 L491.46 871.54 L494.11 871.10 L496.75 870.67 L499.39 870.25 L502.04 869.85 L504.68 869.47 L507.33 869.11 L509.97 868.78 L512.62 868.49 L515.26 868.22 L517.90 867.98 L520.55 867.75 L523.19 867.52 L525.84 867.28 L528.48 867.00 L531.13 866.70 L533.77 866.32 L536.41 865.87 L539.06 865.38 L541.70 864.87 L544.35 864.35 L546.99 863.85 L549.64 863.41 L552.28 863.02 L555.00 862.69 L557.72 862.38 L560.44 862.10 L563.16 861.83 L565.88 861.57 L568.60 861.32 L571.32 861.08 L574.04 860.83 L576.76 860.58 L579.48 860.31 L582.16 860.05 L584.85 859.79 L587.54 859.53 L590.22 859.27 L592.91 859.01 L595.60 858.75 L598.28 858.49 L600.97 858.22 L603.65 857.95 L606.34 857.68 L609.03 857.39 L611.71 857.10 L614.31 856.80 L616.92 856.48 L619.52 856.15 L622.12 855.81 L624.72 855.46 L627.33 855.10 L629.93 854.76 L632.53 854.41 L635.13 854.09 L637.74 853.78 L640.34 853.49 L642.94 853.22 L645.63 852.97 L648.31 852.74 L651.00 852.52 L653.68 852.31 L656.37 852.11 L659.06 851.91 L661.74 851.72 L664.43 851.52 L667.12 851.33 L669.80 851.13 L672.49 850.93 L675.17 850.72 L677.69 850.52 L680.21 850.31 L682.73 850.10 L685.25 849.89 L687.77 849.68 L690.28 849.47 L692.80 849.26 L695.32 849.05" fill="none" stroke="#262626" stroke-width="1.3" stroke-linejoin="round"/>
<path d="M431.40 914.54 L431.55 907.22 L431.70 902.02 L432.56 893.95 L433.41 891.18 L435.43 889.95 L437.44 889.51 L440.37 889.33 L443.29 889.24 L446.21 889.09 L448.89 888.78 L451.57 888.28 L454.25 887.62 L456.94 886.86 L459.62 886.04 L462.30 885.20 L464.98 884.40 L467.66 883.67 L470.31 882.99 L472.95 882.28 L475.60 881.56 L478.24 880.85 L480.89 880.16 L483.53 879.51 L486.17 878.91 L488.82 878.37 L491.46 877.90 L494.11 877.46 L496.75 877.05 L499.39 876.66 L502.04 876.29 L504.68 875.93 L507.33 875.57 L509.97 875.20 L512.62 874.84 L515.26 874.47 L517.90 874.12 L520.55 873.77 L523.19 873.42 L525.84 873.08 L528.48 872.74 L531.13 872.41 L533.77 872.08 L536.41 871.76 L539.06 871.45 L541.70 871.14 L544.35 870.83 L546.99 870.53 L549.64 870.22 L552.28 869.91 L555.00 869.59 L557.72 869.27 L560.44 868.95 L563.16 868.64 L565.88 868.32 L568.60 868.01 L571.32 867.69 L574.04 867.36 L576.76 867.03 L579.48 866.70 L582.16 866.36 L584.85 866.02 L587.54 865.67 L590.22 865.33 L592.91 864.98 L595.60 864.62 L598.28 864.26 L600.97 863.90 L603.65 863.53 L606.34 863.16 L609.03 862.78 L611.71 862.40 L614.31 862.02 L616.92 861.62 L619.52 861.22 L622.12 860.80 L624.72 860.38 L627.33 859.96 L629.93 859.54 L632.53 859.12 L635.13 858.70 L637.74 858.30 L640.34 857.90 L642.94 857.52 L645.63 857.14 L648.31 856.78 L651.00 856.43 L653.68 856.09 L656.37 855.75 L659.06 855.41 L661.74 855.07 L664.43 854.73 L667.12 854.38 L669.80 854.01 L672.49 853.63 L675.17 853.22 L677.69 852.82 L680.21 852.39 L682.73 851.95 L685.25 851.49 L687.77 851.02 L690.28 850.55 L692.80 850.09 L695.32 849.64" fill="none" stroke="#262626" stroke-width="1.3" stroke-linejoin="round"/>
<text x="14.20" y="17.00" font-size="16.35" fill="#0d0d0d" stroke="#0d0d0d" stroke-width="0.12" font-weight="bold" >TYPENSCHLÜSSEL</text>
<text x="202.50" y="41.10" font-size="13" fill="#141414" stroke="#141414" stroke-width="0.12" font-weight="bold" >DB4E</text>
<text x="240.40" y="41.10" font-size="13" fill="#141414" stroke="#141414" stroke-width="0.12" font-weight="bold" >–</text>
<text x="251.90" y="41.10" font-size="13" fill="#141414" stroke="#141414" stroke-width="0.12" font-weight="bold" >25</text>
<text x="272.80" y="41.10" font-size="13" fill="#141414" stroke="#141414" stroke-width="0.12" font-weight="bold" >X</text>
<text x="286.00" y="41.10" font-size="13" fill="#141414" stroke="#141414" stroke-width="0.12" font-weight="bold" >–</text>
<text x="296.00" y="41.10" font-size="13" fill="#141414" stroke="#141414" stroke-width="0.12" font-weight="bold" >350</text>
<text x="324.90" y="41.10" font-size="13" fill="#141414" stroke="#141414" stroke-width="0.12" font-weight="bold" >F</text>
<text x="338.80" y="41.10" font-size="13" fill="#141414" stroke="#141414" stroke-width="0.12" font-weight="bold" >315</text>
<text x="14.40" y="58.50" font-size="11.72" fill="#161616" stroke="#161616" stroke-width="0.12" font-weight="bold" >Benennung</text>
<text x="14.40" y="70.00" font-size="11.72" fill="#222" stroke="#222" stroke-width="0.12" >Druckbegrenzungsventil, metrisch</text>
<text x="14.40" y="91.30" font-size="11.72" fill="#161616" stroke="#161616" stroke-width="0.12" font-weight="bold" >Ausführung</text>
<text x="14.40" y="102.90" font-size="11.72" fill="#222" stroke="#222" stroke-width="0.12" >25</text>
<text x="39.50" y="102.90" font-size="11.72" fill="#222" stroke="#222" stroke-width="0.12" >=</text>
<text x="48.20" y="102.90" font-size="11.72" fill="#222" stroke="#222" stroke-width="0.12" >Standard, mit atm. Tankentlastung</text>
<text x="14.40" y="123.00" font-size="11.72" fill="#161616" stroke="#161616" stroke-width="0.12" font-weight="bold" >Serie</text>
<text x="14.40" y="135.20" font-size="11.72" fill="#222" stroke="#222" stroke-width="0.12" >(wird vom Hersteller festgelegt)</text>
<text x="14.40" y="155.40" font-size="11.72" fill="#161616" stroke="#161616" stroke-width="0.12" font-weight="bold" >Einstelldruckbereich</text>
<text x="14.40" y="167.70" font-size="11.72" fill="#222" stroke="#222" stroke-width="0.12" >350</text>
<text x="39.50" y="167.70" font-size="11.72" fill="#222" stroke="#222" stroke-width="0.12" >=</text>
<text x="48.20" y="167.70" font-size="11.72" fill="#222" stroke="#222" stroke-width="0.12" >bis 350 bar</text>
<text x="14.40" y="179.90" font-size="11.72" fill="#222" stroke="#222" stroke-width="0.12" >andere Druckstufen auf Anfrage</text>
<text x="14.40" y="200.40" font-size="11.72" fill="#161616" stroke="#161616" stroke-width="0.12" font-weight="bold" >Verstellart</text>
<text x="14.40" y="212.80" font-size="11.72" fill="#222" stroke="#222" stroke-width="0.12" >V</text>
<text x="39.50" y="212.80" font-size="11.72" fill="#222" stroke="#222" stroke-width="0.12" >=</text>
<text x="48.20" y="212.80" font-size="11.72" fill="#222" stroke="#222" stroke-width="0.12" >verstellbar mit Werkzeug (Standard)</text>
<text x="14.40" y="225.13" font-size="11.72" fill="#222" stroke="#222" stroke-width="0.12" >F</text>
<text x="39.50" y="225.13" font-size="11.72" fill="#222" stroke="#222" stroke-width="0.12" >=</text>
<text x="48.20" y="225.13" font-size="11.72" fill="#222" stroke="#222" stroke-width="0.12" >fest eingestellt, nicht verstellbar</text>
<text x="14.40" y="237.46" font-size="11.72" fill="#222" stroke="#222" stroke-width="0.12" >P</text>
<text x="39.50" y="237.46" font-size="11.72" fill="#222" stroke="#222" stroke-width="0.12" >=</text>
<text x="48.20" y="237.46" font-size="11.72" fill="#222" stroke="#222" stroke-width="0.12" >plombierbar, verstellbar mit Werkzeug</text>
<text x="14.40" y="249.79" font-size="11.72" fill="#222" stroke="#222" stroke-width="0.12" >M</text>
<text x="39.50" y="249.79" font-size="11.72" fill="#222" stroke="#222" stroke-width="0.12" >=</text>
<text x="48.20" y="249.79" font-size="11.72" fill="#222" stroke="#222" stroke-width="0.12" >Maximaldruckbegrenzung, mit Werkzeug verstellbar</text>
<text x="14.40" y="262.20" font-size="11.72" fill="#222" stroke="#222" stroke-width="0.12" >andere Verstellarten auf Anfrage</text>
<text x="14.40" y="282.40" font-size="11.72" fill="#161616" stroke="#161616" stroke-width="0.12" font-weight="bold" >Öffnungsdruckeinstellung</text>
<text x="14.40" y="294.90" font-size="11.72" fill="#222" stroke="#222" stroke-width="0.12" >Ohne Angabe = keine Einstellung, Feder entspannt</text>
<text x="14.40" y="307.30" font-size="11.72" fill="#222" stroke="#222" stroke-width="0.12" >315</text>
<text x="39.50" y="307.30" font-size="11.72" fill="#222" stroke="#222" stroke-width="0.12" >=</text>
<text x="48.20" y="307.30" font-size="11.72" fill="#222" stroke="#222" stroke-width="0.12" >werksseitig eingestellter Öffnungsdruck in bar,</text>
<text x="48.20" y="319.60" font-size="11.72" fill="#222" stroke="#222" stroke-width="0.12" >Einstellung auf Anfrage</text>
<text x="6.30" y="435.80" font-size="12.3" fill="#111" stroke="#111" stroke-width="0.12" font-weight="bold" >Standardausführungen</text>
<text x="6.30" y="456.00" font-size="11.5" fill="#111" stroke="#111" stroke-width="0.12" font-weight="bold" >Bezeichnung</text>
<text x="310.40" y="456.00" font-size="11.3" fill="#111" stroke="#111" stroke-width="0.12" font-weight="bold" >Mat.-Nr.</text>
<text x="6.30" y="475.40" font-size="11.5" fill="#222" stroke="#222" stroke-width="0.12" >DB4E-25X-350V</text>
<text x="310.40" y="475.40" font-size="11.3" fill="#222" stroke="#222" stroke-width="0.12" >3475344</text>
<text x="6.30" y="494.00" font-size="11.6" fill="#222" stroke="#222" stroke-width="0.12" >andere Ausführungen auf Anfrage</text>
<text x="6.30" y="527.30" font-size="12.3" fill="#111" stroke="#111" stroke-width="0.12" font-weight="bold" >Rohranschlussgehäuse</text>
<text x="6.30" y="546.80" font-size="11.5" fill="#111" stroke="#111" stroke-width="0.12" font-weight="bold" >Bezeichnung</text>
<text x="103.00" y="546.80" font-size="11.5" fill="#111" stroke="#111" stroke-width="0.12" font-weight="bold" >Mat.-Nr.</text>
<text x="161.40" y="546.80" font-size="11.5" fill="#111" stroke="#111" stroke-width="0.12" font-weight="bold" >Werkstoff</text>
<text x="248.00" y="546.80" font-size="11.5" fill="#111" stroke="#111" stroke-width="0.12" font-weight="bold" >Anschlüsse</text>
<text x="324.00" y="546.80" font-size="11.5" fill="#111" stroke="#111" stroke-width="0.12" font-weight="bold" >Druck</text>
<text x="6.30" y="566.00" font-size="11.5" fill="#222" stroke="#222" stroke-width="0.12" >R06020-01X-01</text>
<text x="103.00" y="566.00" font-size="11.5" fill="#222" stroke="#222" stroke-width="0.12" >275266</text>
<text x="161.40" y="566.00" font-size="11.5" fill="#222" stroke="#222" stroke-width="0.12" >Stahl, verzinkt</text>
<text x="248.00" y="566.00" font-size="11.5" fill="#222" stroke="#222" stroke-width="0.12" >G 3/8</text>
<text x="324.00" y="566.00" font-size="11.5" fill="#222" stroke="#222" stroke-width="0.12" >420 bar</text>
<text x="6.30" y="585.60" font-size="11.6" fill="#222" stroke="#222" stroke-width="0.12" >andere Gehäuse auf Anfrage</text>
<text x="392.20" y="21.00" font-size="16" fill="#0d0d0d" stroke="#0d0d0d" stroke-width="0.12" font-weight="bold" letter-spacing="0.42">KENNLINIEN</text>
<text x="392.00" y="56.00" font-size="13" fill="#1e1e1e" stroke="#1e1e1e" stroke-width="0.12" >p</text>
<text x="399.20" y="60.00" font-size="7.5" fill="#1e1e1e" stroke="#1e1e1e" stroke-width="0.12" >o</text>
<text x="407.40" y="56.00" font-size="13.05" fill="#1e1e1e" stroke="#1e1e1e" stroke-width="0.12" >= 100 bar, Tankdruck = 100 bar, ν = 33 mm²/s</text>
<text x="392.00" y="314.00" font-size="13" fill="#1e1e1e" stroke="#1e1e1e" stroke-width="0.12" >p</text>
<text x="399.20" y="318.00" font-size="7.5" fill="#1e1e1e" stroke="#1e1e1e" stroke-width="0.12" >o</text>
<text x="407.40" y="314.00" font-size="13.05" fill="#1e1e1e" stroke="#1e1e1e" stroke-width="0.12" >= 200 bar, Tankdruck = 200 bar, ν = 33 mm²/s</text>
<text x="392.00" y="572.00" font-size="13" fill="#1e1e1e" stroke="#1e1e1e" stroke-width="0.12" >p</text>
<text x="399.20" y="576.00" font-size="7.5" fill="#1e1e1e" stroke="#1e1e1e" stroke-width="0.12" >o</text>
<text x="407.40" y="572.00" font-size="13.05" fill="#1e1e1e" stroke="#1e1e1e" stroke-width="0.12" >= 250 bar, Tankdruck = 250 bar, ν = 33 mm²/s</text>
<text x="392.00" y="830.00" font-size="13" fill="#1e1e1e" stroke="#1e1e1e" stroke-width="0.12" >p</text>
<text x="399.20" y="834.00" font-size="7.5" fill="#1e1e1e" stroke="#1e1e1e" stroke-width="0.12" >o</text>
<text x="407.40" y="830.00" font-size="13.05" fill="#1e1e1e" stroke="#1e1e1e" stroke-width="0.12" >= 350 bar, Tankdruck = 350 bar, ν = 33 mm²/s</text>
</svg>
</body></html>
